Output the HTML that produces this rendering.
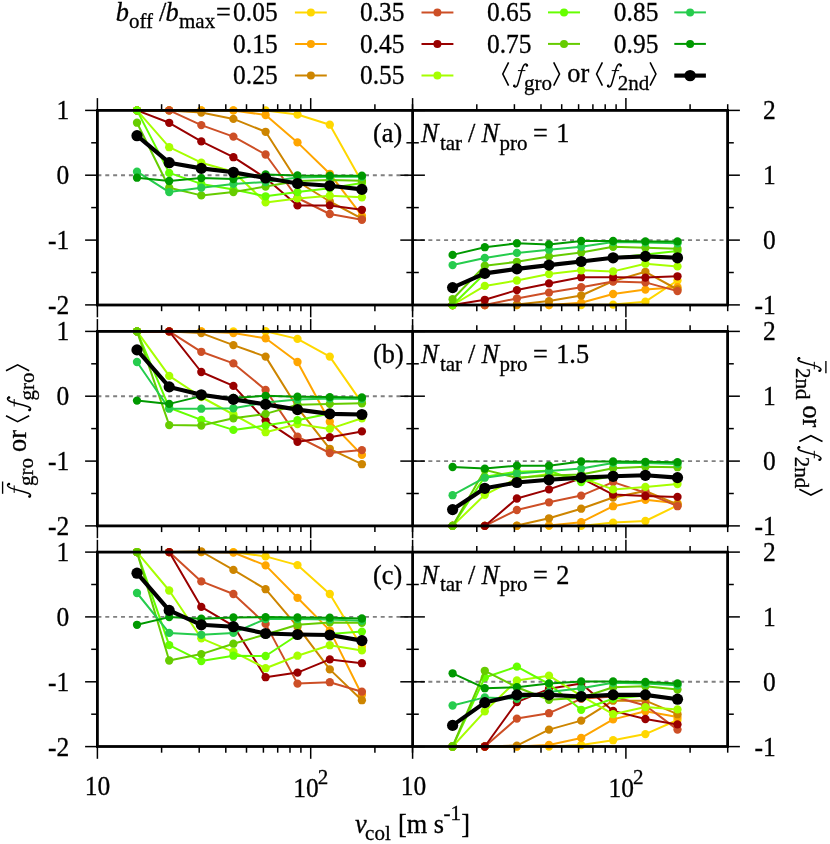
<!DOCTYPE html><html><head><meta charset="utf-8"><title>chart</title><style>
html,body{margin:0;padding:0;background:#fff}svg{display:block;will-change:transform}
text{font-family:"Liberation Serif",serif;fill:#000;stroke:#000;stroke-width:0.3px}
</style></head><body>
<svg width="830" height="844" viewBox="0 0 830 844">
<rect width="830" height="844" fill="#fff"/>
<defs>
<clipPath id="cL0"><rect x="97.4" y="105.4" width="315.20000000000005" height="204.6"/></clipPath>
<clipPath id="cR0"><rect x="412.6" y="105.4" width="315.0" height="204.6"/></clipPath>
<clipPath id="cL1"><rect x="97.4" y="326.4" width="315.20000000000005" height="204.5"/></clipPath>
<clipPath id="cR1"><rect x="412.6" y="326.4" width="315.0" height="204.5"/></clipPath>
<clipPath id="cL2"><rect x="97.4" y="547.1" width="315.20000000000005" height="204.39999999999998"/></clipPath>
<clipPath id="cR2"><rect x="412.6" y="547.1" width="315.0" height="204.39999999999998"/></clipPath>
</defs>
<line x1="97.4" y1="175.2" x2="412.6" y2="175.2" stroke="#808080" stroke-width="1.9" stroke-dasharray="4,3.87"/>
<g clip-path="url(#cL0)">
<polyline points="137.0,110.4 169.2,110.4 201.3,110.4 233.4,110.4 265.6,110.4 297.5,114.5 329.8,124.7 361.9,182.0" fill="none" stroke="#FFD700" stroke-width="2.0" stroke-linejoin="round"/>
<circle cx="137.0" cy="110.4" r="4.15" fill="#FFD700"/>
<circle cx="169.2" cy="110.4" r="4.15" fill="#FFD700"/>
<circle cx="201.3" cy="110.4" r="4.15" fill="#FFD700"/>
<circle cx="233.4" cy="110.4" r="4.15" fill="#FFD700"/>
<circle cx="265.6" cy="110.4" r="4.15" fill="#FFD700"/>
<circle cx="297.5" cy="114.5" r="4.15" fill="#FFD700"/>
<circle cx="329.8" cy="124.7" r="4.15" fill="#FFD700"/>
<circle cx="361.9" cy="182.0" r="4.15" fill="#FFD700"/>
<polyline points="137.0,110.4 169.2,110.4 201.3,110.4 233.4,110.4 265.6,115.0 297.5,142.4 329.8,173.8 361.9,215.6" fill="none" stroke="#FFA500" stroke-width="2.0" stroke-linejoin="round"/>
<circle cx="137.0" cy="110.4" r="4.15" fill="#FFA500"/>
<circle cx="169.2" cy="110.4" r="4.15" fill="#FFA500"/>
<circle cx="201.3" cy="110.4" r="4.15" fill="#FFA500"/>
<circle cx="233.4" cy="110.4" r="4.15" fill="#FFA500"/>
<circle cx="265.6" cy="115.0" r="4.15" fill="#FFA500"/>
<circle cx="297.5" cy="142.4" r="4.15" fill="#FFA500"/>
<circle cx="329.8" cy="173.8" r="4.15" fill="#FFA500"/>
<circle cx="361.9" cy="215.6" r="4.15" fill="#FFA500"/>
<polyline points="137.0,110.4 169.2,110.4 201.3,112.5 233.4,118.9 265.6,131.8 297.5,181.5 329.8,201.5 361.9,218.7" fill="none" stroke="#CD8500" stroke-width="2.0" stroke-linejoin="round"/>
<circle cx="137.0" cy="110.4" r="4.15" fill="#CD8500"/>
<circle cx="169.2" cy="110.4" r="4.15" fill="#CD8500"/>
<circle cx="201.3" cy="112.5" r="4.15" fill="#CD8500"/>
<circle cx="233.4" cy="118.9" r="4.15" fill="#CD8500"/>
<circle cx="265.6" cy="131.8" r="4.15" fill="#CD8500"/>
<circle cx="297.5" cy="181.5" r="4.15" fill="#CD8500"/>
<circle cx="329.8" cy="201.5" r="4.15" fill="#CD8500"/>
<circle cx="361.9" cy="218.7" r="4.15" fill="#CD8500"/>
<polyline points="137.0,110.4 169.2,110.4 201.3,125.1 233.4,136.6 265.6,154.5 297.5,198.0 329.8,214.0 361.9,219.8" fill="none" stroke="#CD4F26" stroke-width="2.0" stroke-linejoin="round"/>
<circle cx="137.0" cy="110.4" r="4.15" fill="#CD4F26"/>
<circle cx="169.2" cy="110.4" r="4.15" fill="#CD4F26"/>
<circle cx="201.3" cy="125.1" r="4.15" fill="#CD4F26"/>
<circle cx="233.4" cy="136.6" r="4.15" fill="#CD4F26"/>
<circle cx="265.6" cy="154.5" r="4.15" fill="#CD4F26"/>
<circle cx="297.5" cy="198.0" r="4.15" fill="#CD4F26"/>
<circle cx="329.8" cy="214.0" r="4.15" fill="#CD4F26"/>
<circle cx="361.9" cy="219.8" r="4.15" fill="#CD4F26"/>
<polyline points="137.0,110.4 169.2,122.8 201.3,141.4 233.4,157.2 265.6,178.0 297.5,205.4 329.8,205.4 361.9,209.8" fill="none" stroke="#990000" stroke-width="2.0" stroke-linejoin="round"/>
<circle cx="137.0" cy="110.4" r="4.15" fill="#990000"/>
<circle cx="169.2" cy="122.8" r="4.15" fill="#990000"/>
<circle cx="201.3" cy="141.4" r="4.15" fill="#990000"/>
<circle cx="233.4" cy="157.2" r="4.15" fill="#990000"/>
<circle cx="265.6" cy="178.0" r="4.15" fill="#990000"/>
<circle cx="297.5" cy="205.4" r="4.15" fill="#990000"/>
<circle cx="329.8" cy="205.4" r="4.15" fill="#990000"/>
<circle cx="361.9" cy="209.8" r="4.15" fill="#990000"/>
<polyline points="137.0,110.4 169.2,147.2 201.3,162.7 233.4,171.7 265.6,202.4 297.5,198.4 329.8,195.7 361.9,197.3" fill="none" stroke="#A6FF00" stroke-width="2.0" stroke-linejoin="round"/>
<circle cx="137.0" cy="110.4" r="4.15" fill="#A6FF00"/>
<circle cx="169.2" cy="147.2" r="4.15" fill="#A6FF00"/>
<circle cx="201.3" cy="162.7" r="4.15" fill="#A6FF00"/>
<circle cx="233.4" cy="171.7" r="4.15" fill="#A6FF00"/>
<circle cx="265.6" cy="202.4" r="4.15" fill="#A6FF00"/>
<circle cx="297.5" cy="198.4" r="4.15" fill="#A6FF00"/>
<circle cx="329.8" cy="195.7" r="4.15" fill="#A6FF00"/>
<circle cx="361.9" cy="197.3" r="4.15" fill="#A6FF00"/>
<polyline points="137.0,110.4 169.2,172.9 201.3,183.9 233.4,189.6 265.6,196.3 297.5,192.1 329.8,188.2 361.9,183.0" fill="none" stroke="#66FF00" stroke-width="2.0" stroke-linejoin="round"/>
<circle cx="137.0" cy="110.4" r="4.15" fill="#66FF00"/>
<circle cx="169.2" cy="172.9" r="4.15" fill="#66FF00"/>
<circle cx="201.3" cy="183.9" r="4.15" fill="#66FF00"/>
<circle cx="233.4" cy="189.6" r="4.15" fill="#66FF00"/>
<circle cx="265.6" cy="196.3" r="4.15" fill="#66FF00"/>
<circle cx="297.5" cy="192.1" r="4.15" fill="#66FF00"/>
<circle cx="329.8" cy="188.2" r="4.15" fill="#66FF00"/>
<circle cx="361.9" cy="183.0" r="4.15" fill="#66FF00"/>
<polyline points="137.0,122.7 169.2,187.7 201.3,195.4 233.4,192.1 265.6,186.6 297.5,181.0 329.8,180.0 361.9,180.8" fill="none" stroke="#66CC00" stroke-width="2.0" stroke-linejoin="round"/>
<circle cx="137.0" cy="122.7" r="4.15" fill="#66CC00"/>
<circle cx="169.2" cy="187.7" r="4.15" fill="#66CC00"/>
<circle cx="201.3" cy="195.4" r="4.15" fill="#66CC00"/>
<circle cx="233.4" cy="192.1" r="4.15" fill="#66CC00"/>
<circle cx="265.6" cy="186.6" r="4.15" fill="#66CC00"/>
<circle cx="297.5" cy="181.0" r="4.15" fill="#66CC00"/>
<circle cx="329.8" cy="180.0" r="4.15" fill="#66CC00"/>
<circle cx="361.9" cy="180.8" r="4.15" fill="#66CC00"/>
<polyline points="137.0,171.7 169.2,192.1 201.3,187.7 233.4,183.9 265.6,182.0 297.5,177.5 329.8,176.8 361.9,176.8" fill="none" stroke="#26CC4D" stroke-width="2.0" stroke-linejoin="round"/>
<circle cx="137.0" cy="171.7" r="4.15" fill="#26CC4D"/>
<circle cx="169.2" cy="192.1" r="4.15" fill="#26CC4D"/>
<circle cx="201.3" cy="187.7" r="4.15" fill="#26CC4D"/>
<circle cx="233.4" cy="183.9" r="4.15" fill="#26CC4D"/>
<circle cx="265.6" cy="182.0" r="4.15" fill="#26CC4D"/>
<circle cx="297.5" cy="177.5" r="4.15" fill="#26CC4D"/>
<circle cx="329.8" cy="176.8" r="4.15" fill="#26CC4D"/>
<circle cx="361.9" cy="176.8" r="4.15" fill="#26CC4D"/>
<polyline points="137.0,177.7 169.2,181.0 201.3,178.1 233.4,179.0 265.6,174.5 297.5,175.5 329.8,175.7 361.9,175.7" fill="none" stroke="#009900" stroke-width="2.0" stroke-linejoin="round"/>
<circle cx="137.0" cy="177.7" r="4.15" fill="#009900"/>
<circle cx="169.2" cy="181.0" r="4.15" fill="#009900"/>
<circle cx="201.3" cy="178.1" r="4.15" fill="#009900"/>
<circle cx="233.4" cy="179.0" r="4.15" fill="#009900"/>
<circle cx="265.6" cy="174.5" r="4.15" fill="#009900"/>
<circle cx="297.5" cy="175.5" r="4.15" fill="#009900"/>
<circle cx="329.8" cy="175.7" r="4.15" fill="#009900"/>
<circle cx="361.9" cy="175.7" r="4.15" fill="#009900"/>
<polyline points="137.0,135.7 169.2,162.7 201.3,168.4 233.4,172.3 265.6,178.0 297.5,183.5 329.8,185.8 361.9,189.4" fill="none" stroke="#000000" stroke-width="4.15" stroke-linejoin="round"/>
<circle cx="137.0" cy="135.7" r="5.6" fill="#000000"/>
<circle cx="169.2" cy="162.7" r="5.6" fill="#000000"/>
<circle cx="201.3" cy="168.4" r="5.6" fill="#000000"/>
<circle cx="233.4" cy="172.3" r="5.6" fill="#000000"/>
<circle cx="265.6" cy="178.0" r="5.6" fill="#000000"/>
<circle cx="297.5" cy="183.5" r="5.6" fill="#000000"/>
<circle cx="329.8" cy="185.8" r="5.6" fill="#000000"/>
<circle cx="361.9" cy="189.4" r="5.6" fill="#000000"/>
</g>
<line x1="412.6" y1="240.1" x2="727.6" y2="240.1" stroke="#808080" stroke-width="1.9" stroke-dasharray="4,3.87"/>
<g clip-path="url(#cR0)">
<polyline points="452.6,305.0 484.8,305.0 516.9,305.0 549.0,305.0 581.2,305.0 613.1,304.6 645.4,301.7 677.5,280.5" fill="none" stroke="#FFD700" stroke-width="2.0" stroke-linejoin="round"/>
<circle cx="452.6" cy="305.0" r="4.15" fill="#FFD700"/>
<circle cx="484.8" cy="305.0" r="4.15" fill="#FFD700"/>
<circle cx="516.9" cy="305.0" r="4.15" fill="#FFD700"/>
<circle cx="549.0" cy="305.0" r="4.15" fill="#FFD700"/>
<circle cx="581.2" cy="305.0" r="4.15" fill="#FFD700"/>
<circle cx="613.1" cy="304.6" r="4.15" fill="#FFD700"/>
<circle cx="645.4" cy="301.7" r="4.15" fill="#FFD700"/>
<circle cx="677.5" cy="280.5" r="4.15" fill="#FFD700"/>
<polyline points="452.6,305.0 484.8,305.0 516.9,305.0 549.0,305.0 581.2,302.7 613.1,294.0 645.4,289.6 677.5,287.2" fill="none" stroke="#FFA500" stroke-width="2.0" stroke-linejoin="round"/>
<circle cx="452.6" cy="305.0" r="4.15" fill="#FFA500"/>
<circle cx="484.8" cy="305.0" r="4.15" fill="#FFA500"/>
<circle cx="516.9" cy="305.0" r="4.15" fill="#FFA500"/>
<circle cx="549.0" cy="305.0" r="4.15" fill="#FFA500"/>
<circle cx="581.2" cy="302.7" r="4.15" fill="#FFA500"/>
<circle cx="613.1" cy="294.0" r="4.15" fill="#FFA500"/>
<circle cx="645.4" cy="289.6" r="4.15" fill="#FFA500"/>
<circle cx="677.5" cy="287.2" r="4.15" fill="#FFA500"/>
<polyline points="452.6,305.0 484.8,305.0 516.9,304.5 549.0,301.1 581.2,295.5 613.1,281.1 645.4,271.8 677.5,289.5" fill="none" stroke="#CD8500" stroke-width="2.0" stroke-linejoin="round"/>
<circle cx="452.6" cy="305.0" r="4.15" fill="#CD8500"/>
<circle cx="484.8" cy="305.0" r="4.15" fill="#CD8500"/>
<circle cx="516.9" cy="304.5" r="4.15" fill="#CD8500"/>
<circle cx="549.0" cy="301.1" r="4.15" fill="#CD8500"/>
<circle cx="581.2" cy="295.5" r="4.15" fill="#CD8500"/>
<circle cx="613.1" cy="281.1" r="4.15" fill="#CD8500"/>
<circle cx="645.4" cy="271.8" r="4.15" fill="#CD8500"/>
<circle cx="677.5" cy="289.5" r="4.15" fill="#CD8500"/>
<polyline points="452.6,305.0 484.8,305.0 516.9,298.4 549.0,292.6 581.2,287.2 613.1,281.5 645.4,282.4 677.5,291.1" fill="none" stroke="#CD4F26" stroke-width="2.0" stroke-linejoin="round"/>
<circle cx="452.6" cy="305.0" r="4.15" fill="#CD4F26"/>
<circle cx="484.8" cy="305.0" r="4.15" fill="#CD4F26"/>
<circle cx="516.9" cy="298.4" r="4.15" fill="#CD4F26"/>
<circle cx="549.0" cy="292.6" r="4.15" fill="#CD4F26"/>
<circle cx="581.2" cy="287.2" r="4.15" fill="#CD4F26"/>
<circle cx="613.1" cy="281.5" r="4.15" fill="#CD4F26"/>
<circle cx="645.4" cy="282.4" r="4.15" fill="#CD4F26"/>
<circle cx="677.5" cy="291.1" r="4.15" fill="#CD4F26"/>
<polyline points="452.6,305.0 484.8,299.8 516.9,290.1 549.0,283.4 581.2,277.2 613.1,277.2 645.4,277.6 677.5,276.3" fill="none" stroke="#990000" stroke-width="2.0" stroke-linejoin="round"/>
<circle cx="452.6" cy="305.0" r="4.15" fill="#990000"/>
<circle cx="484.8" cy="299.8" r="4.15" fill="#990000"/>
<circle cx="516.9" cy="290.1" r="4.15" fill="#990000"/>
<circle cx="549.0" cy="283.4" r="4.15" fill="#990000"/>
<circle cx="581.2" cy="277.2" r="4.15" fill="#990000"/>
<circle cx="613.1" cy="277.2" r="4.15" fill="#990000"/>
<circle cx="645.4" cy="277.6" r="4.15" fill="#990000"/>
<circle cx="677.5" cy="276.3" r="4.15" fill="#990000"/>
<polyline points="452.6,305.0 484.8,285.9 516.9,280.5 549.0,274.1 581.2,270.3 613.1,271.4 645.4,263.7 677.5,266.4" fill="none" stroke="#A6FF00" stroke-width="2.0" stroke-linejoin="round"/>
<circle cx="452.6" cy="305.0" r="4.15" fill="#A6FF00"/>
<circle cx="484.8" cy="285.9" r="4.15" fill="#A6FF00"/>
<circle cx="516.9" cy="280.5" r="4.15" fill="#A6FF00"/>
<circle cx="549.0" cy="274.1" r="4.15" fill="#A6FF00"/>
<circle cx="581.2" cy="270.3" r="4.15" fill="#A6FF00"/>
<circle cx="613.1" cy="271.4" r="4.15" fill="#A6FF00"/>
<circle cx="645.4" cy="263.7" r="4.15" fill="#A6FF00"/>
<circle cx="677.5" cy="266.4" r="4.15" fill="#A6FF00"/>
<polyline points="452.6,305.0 484.8,273.5 516.9,269.0 549.0,265.2 581.2,261.5 613.1,257.8 645.4,254.5 677.5,251.0" fill="none" stroke="#66FF00" stroke-width="2.0" stroke-linejoin="round"/>
<circle cx="452.6" cy="305.0" r="4.15" fill="#66FF00"/>
<circle cx="484.8" cy="273.5" r="4.15" fill="#66FF00"/>
<circle cx="516.9" cy="269.0" r="4.15" fill="#66FF00"/>
<circle cx="549.0" cy="265.2" r="4.15" fill="#66FF00"/>
<circle cx="581.2" cy="261.5" r="4.15" fill="#66FF00"/>
<circle cx="613.1" cy="257.8" r="4.15" fill="#66FF00"/>
<circle cx="645.4" cy="254.5" r="4.15" fill="#66FF00"/>
<circle cx="677.5" cy="251.0" r="4.15" fill="#66FF00"/>
<polyline points="452.6,299.2 484.8,265.7 516.9,261.8 549.0,256.4 581.2,252.5 613.1,246.8 645.4,247.7 677.5,248.7" fill="none" stroke="#66CC00" stroke-width="2.0" stroke-linejoin="round"/>
<circle cx="452.6" cy="299.2" r="4.15" fill="#66CC00"/>
<circle cx="484.8" cy="265.7" r="4.15" fill="#66CC00"/>
<circle cx="516.9" cy="261.8" r="4.15" fill="#66CC00"/>
<circle cx="549.0" cy="256.4" r="4.15" fill="#66CC00"/>
<circle cx="581.2" cy="252.5" r="4.15" fill="#66CC00"/>
<circle cx="613.1" cy="246.8" r="4.15" fill="#66CC00"/>
<circle cx="645.4" cy="247.7" r="4.15" fill="#66CC00"/>
<circle cx="677.5" cy="248.7" r="4.15" fill="#66CC00"/>
<polyline points="452.6,265.1 484.8,257.9 516.9,252.9 549.0,249.7 581.2,246.8 613.1,242.0 645.4,242.5 677.5,243.3" fill="none" stroke="#26CC4D" stroke-width="2.0" stroke-linejoin="round"/>
<circle cx="452.6" cy="265.1" r="4.15" fill="#26CC4D"/>
<circle cx="484.8" cy="257.9" r="4.15" fill="#26CC4D"/>
<circle cx="516.9" cy="252.9" r="4.15" fill="#26CC4D"/>
<circle cx="549.0" cy="249.7" r="4.15" fill="#26CC4D"/>
<circle cx="581.2" cy="246.8" r="4.15" fill="#26CC4D"/>
<circle cx="613.1" cy="242.0" r="4.15" fill="#26CC4D"/>
<circle cx="645.4" cy="242.5" r="4.15" fill="#26CC4D"/>
<circle cx="677.5" cy="243.3" r="4.15" fill="#26CC4D"/>
<polyline points="452.6,254.9 484.8,247.2 516.9,243.3 549.0,244.4 581.2,241.0 613.1,241.0 645.4,241.4 677.5,241.4" fill="none" stroke="#009900" stroke-width="2.0" stroke-linejoin="round"/>
<circle cx="452.6" cy="254.9" r="4.15" fill="#009900"/>
<circle cx="484.8" cy="247.2" r="4.15" fill="#009900"/>
<circle cx="516.9" cy="243.3" r="4.15" fill="#009900"/>
<circle cx="549.0" cy="244.4" r="4.15" fill="#009900"/>
<circle cx="581.2" cy="241.0" r="4.15" fill="#009900"/>
<circle cx="613.1" cy="241.0" r="4.15" fill="#009900"/>
<circle cx="645.4" cy="241.4" r="4.15" fill="#009900"/>
<circle cx="677.5" cy="241.4" r="4.15" fill="#009900"/>
<polyline points="452.6,287.6 484.8,273.4 516.9,268.9 549.0,265.1 581.2,261.5 613.1,257.8 645.4,256.4 677.5,257.8" fill="none" stroke="#000000" stroke-width="4.15" stroke-linejoin="round"/>
<circle cx="452.6" cy="287.6" r="5.6" fill="#000000"/>
<circle cx="484.8" cy="273.4" r="5.6" fill="#000000"/>
<circle cx="516.9" cy="268.9" r="5.6" fill="#000000"/>
<circle cx="549.0" cy="265.1" r="5.6" fill="#000000"/>
<circle cx="581.2" cy="261.5" r="5.6" fill="#000000"/>
<circle cx="613.1" cy="257.8" r="5.6" fill="#000000"/>
<circle cx="645.4" cy="256.4" r="5.6" fill="#000000"/>
<circle cx="677.5" cy="257.8" r="5.6" fill="#000000"/>
</g>
<line x1="97.4" y1="396.2" x2="412.6" y2="396.2" stroke="#808080" stroke-width="1.9" stroke-dasharray="4,3.87"/>
<g clip-path="url(#cL1)">
<polyline points="137.0,331.4 169.2,331.4 201.3,331.4 233.4,331.4 265.6,331.2 297.5,338.9 329.8,356.6 361.9,402.9" fill="none" stroke="#FFD700" stroke-width="2.0" stroke-linejoin="round"/>
<circle cx="137.0" cy="331.4" r="4.15" fill="#FFD700"/>
<circle cx="169.2" cy="331.4" r="4.15" fill="#FFD700"/>
<circle cx="201.3" cy="331.4" r="4.15" fill="#FFD700"/>
<circle cx="233.4" cy="331.4" r="4.15" fill="#FFD700"/>
<circle cx="265.6" cy="331.2" r="4.15" fill="#FFD700"/>
<circle cx="297.5" cy="338.9" r="4.15" fill="#FFD700"/>
<circle cx="329.8" cy="356.6" r="4.15" fill="#FFD700"/>
<circle cx="361.9" cy="402.9" r="4.15" fill="#FFD700"/>
<polyline points="137.0,331.4 169.2,331.4 201.3,331.4 233.4,333.1 265.6,338.3 297.5,362.0 329.8,421.8 361.9,454.9" fill="none" stroke="#FFA500" stroke-width="2.0" stroke-linejoin="round"/>
<circle cx="137.0" cy="331.4" r="4.15" fill="#FFA500"/>
<circle cx="169.2" cy="331.4" r="4.15" fill="#FFA500"/>
<circle cx="201.3" cy="331.4" r="4.15" fill="#FFA500"/>
<circle cx="233.4" cy="333.1" r="4.15" fill="#FFA500"/>
<circle cx="265.6" cy="338.3" r="4.15" fill="#FFA500"/>
<circle cx="297.5" cy="362.0" r="4.15" fill="#FFA500"/>
<circle cx="329.8" cy="421.8" r="4.15" fill="#FFA500"/>
<circle cx="361.9" cy="454.9" r="4.15" fill="#FFA500"/>
<polyline points="137.0,331.4 169.2,331.4 201.3,333.1 233.4,345.1 265.6,356.6 297.5,407.7 329.8,448.8 361.9,464.2" fill="none" stroke="#CD8500" stroke-width="2.0" stroke-linejoin="round"/>
<circle cx="137.0" cy="331.4" r="4.15" fill="#CD8500"/>
<circle cx="169.2" cy="331.4" r="4.15" fill="#CD8500"/>
<circle cx="201.3" cy="333.1" r="4.15" fill="#CD8500"/>
<circle cx="233.4" cy="345.1" r="4.15" fill="#CD8500"/>
<circle cx="265.6" cy="356.6" r="4.15" fill="#CD8500"/>
<circle cx="297.5" cy="407.7" r="4.15" fill="#CD8500"/>
<circle cx="329.8" cy="448.8" r="4.15" fill="#CD8500"/>
<circle cx="361.9" cy="464.2" r="4.15" fill="#CD8500"/>
<polyline points="137.0,331.4 169.2,331.4 201.3,351.8 233.4,363.4 265.6,390.0 297.5,436.6 329.8,453.0 361.9,450.1" fill="none" stroke="#CD4F26" stroke-width="2.0" stroke-linejoin="round"/>
<circle cx="137.0" cy="331.4" r="4.15" fill="#CD4F26"/>
<circle cx="169.2" cy="331.4" r="4.15" fill="#CD4F26"/>
<circle cx="201.3" cy="351.8" r="4.15" fill="#CD4F26"/>
<circle cx="233.4" cy="363.4" r="4.15" fill="#CD4F26"/>
<circle cx="265.6" cy="390.0" r="4.15" fill="#CD4F26"/>
<circle cx="297.5" cy="436.6" r="4.15" fill="#CD4F26"/>
<circle cx="329.8" cy="453.0" r="4.15" fill="#CD4F26"/>
<circle cx="361.9" cy="450.1" r="4.15" fill="#CD4F26"/>
<polyline points="137.0,331.4 169.2,331.4 201.3,372.0 233.4,385.9 265.6,420.6 297.5,441.8 329.8,437.2 361.9,431.4" fill="none" stroke="#990000" stroke-width="2.0" stroke-linejoin="round"/>
<circle cx="137.0" cy="331.4" r="4.15" fill="#990000"/>
<circle cx="169.2" cy="331.4" r="4.15" fill="#990000"/>
<circle cx="201.3" cy="372.0" r="4.15" fill="#990000"/>
<circle cx="233.4" cy="385.9" r="4.15" fill="#990000"/>
<circle cx="265.6" cy="420.6" r="4.15" fill="#990000"/>
<circle cx="297.5" cy="441.8" r="4.15" fill="#990000"/>
<circle cx="329.8" cy="437.2" r="4.15" fill="#990000"/>
<circle cx="361.9" cy="431.4" r="4.15" fill="#990000"/>
<polyline points="137.0,331.4 169.2,375.9 201.3,397.0 233.4,414.5 265.6,432.2 297.5,424.1 329.8,428.9 361.9,418.3" fill="none" stroke="#A6FF00" stroke-width="2.0" stroke-linejoin="round"/>
<circle cx="137.0" cy="331.4" r="4.15" fill="#A6FF00"/>
<circle cx="169.2" cy="375.9" r="4.15" fill="#A6FF00"/>
<circle cx="201.3" cy="397.0" r="4.15" fill="#A6FF00"/>
<circle cx="233.4" cy="414.5" r="4.15" fill="#A6FF00"/>
<circle cx="265.6" cy="432.2" r="4.15" fill="#A6FF00"/>
<circle cx="297.5" cy="424.1" r="4.15" fill="#A6FF00"/>
<circle cx="329.8" cy="428.9" r="4.15" fill="#A6FF00"/>
<circle cx="361.9" cy="418.3" r="4.15" fill="#A6FF00"/>
<polyline points="137.0,331.4 169.2,407.7 201.3,419.9 233.4,429.9 265.6,425.6 297.5,420.2 329.8,413.5 361.9,414.5" fill="none" stroke="#66FF00" stroke-width="2.0" stroke-linejoin="round"/>
<circle cx="137.0" cy="331.4" r="4.15" fill="#66FF00"/>
<circle cx="169.2" cy="407.7" r="4.15" fill="#66FF00"/>
<circle cx="201.3" cy="419.9" r="4.15" fill="#66FF00"/>
<circle cx="233.4" cy="429.9" r="4.15" fill="#66FF00"/>
<circle cx="265.6" cy="425.6" r="4.15" fill="#66FF00"/>
<circle cx="297.5" cy="420.2" r="4.15" fill="#66FF00"/>
<circle cx="329.8" cy="413.5" r="4.15" fill="#66FF00"/>
<circle cx="361.9" cy="414.5" r="4.15" fill="#66FF00"/>
<polyline points="137.0,331.4 169.2,425.1 201.3,425.6 233.4,418.3 265.6,413.9 297.5,404.8 329.8,403.9 361.9,403.3" fill="none" stroke="#66CC00" stroke-width="2.0" stroke-linejoin="round"/>
<circle cx="137.0" cy="331.4" r="4.15" fill="#66CC00"/>
<circle cx="169.2" cy="425.1" r="4.15" fill="#66CC00"/>
<circle cx="201.3" cy="425.6" r="4.15" fill="#66CC00"/>
<circle cx="233.4" cy="418.3" r="4.15" fill="#66CC00"/>
<circle cx="265.6" cy="413.9" r="4.15" fill="#66CC00"/>
<circle cx="297.5" cy="404.8" r="4.15" fill="#66CC00"/>
<circle cx="329.8" cy="403.9" r="4.15" fill="#66CC00"/>
<circle cx="361.9" cy="403.3" r="4.15" fill="#66CC00"/>
<polyline points="137.0,362.0 169.2,408.7 201.3,408.7 233.4,408.3 265.6,402.5 297.5,399.5 329.8,398.5 361.9,399.0" fill="none" stroke="#26CC4D" stroke-width="2.0" stroke-linejoin="round"/>
<circle cx="137.0" cy="362.0" r="4.15" fill="#26CC4D"/>
<circle cx="169.2" cy="408.7" r="4.15" fill="#26CC4D"/>
<circle cx="201.3" cy="408.7" r="4.15" fill="#26CC4D"/>
<circle cx="233.4" cy="408.3" r="4.15" fill="#26CC4D"/>
<circle cx="265.6" cy="402.5" r="4.15" fill="#26CC4D"/>
<circle cx="297.5" cy="399.5" r="4.15" fill="#26CC4D"/>
<circle cx="329.8" cy="398.5" r="4.15" fill="#26CC4D"/>
<circle cx="361.9" cy="399.0" r="4.15" fill="#26CC4D"/>
<polyline points="137.0,400.6 169.2,403.9 201.3,396.1 233.4,398.0 265.6,395.8 297.5,396.7 329.8,397.1 361.9,397.5" fill="none" stroke="#009900" stroke-width="2.0" stroke-linejoin="round"/>
<circle cx="137.0" cy="400.6" r="4.15" fill="#009900"/>
<circle cx="169.2" cy="403.9" r="4.15" fill="#009900"/>
<circle cx="201.3" cy="396.1" r="4.15" fill="#009900"/>
<circle cx="233.4" cy="398.0" r="4.15" fill="#009900"/>
<circle cx="265.6" cy="395.8" r="4.15" fill="#009900"/>
<circle cx="297.5" cy="396.7" r="4.15" fill="#009900"/>
<circle cx="329.8" cy="397.1" r="4.15" fill="#009900"/>
<circle cx="361.9" cy="397.5" r="4.15" fill="#009900"/>
<polyline points="137.0,349.9 169.2,386.9 201.3,394.8 233.4,399.4 265.6,404.4 297.5,409.6 329.8,413.9 361.9,414.5" fill="none" stroke="#000000" stroke-width="4.15" stroke-linejoin="round"/>
<circle cx="137.0" cy="349.9" r="5.6" fill="#000000"/>
<circle cx="169.2" cy="386.9" r="5.6" fill="#000000"/>
<circle cx="201.3" cy="394.8" r="5.6" fill="#000000"/>
<circle cx="233.4" cy="399.4" r="5.6" fill="#000000"/>
<circle cx="265.6" cy="404.4" r="5.6" fill="#000000"/>
<circle cx="297.5" cy="409.6" r="5.6" fill="#000000"/>
<circle cx="329.8" cy="413.9" r="5.6" fill="#000000"/>
<circle cx="361.9" cy="414.5" r="5.6" fill="#000000"/>
</g>
<line x1="412.6" y1="461.1" x2="727.6" y2="461.1" stroke="#808080" stroke-width="1.9" stroke-dasharray="4,3.87"/>
<g clip-path="url(#cR1)">
<polyline points="452.6,525.9 484.8,525.9 516.9,525.9 549.0,525.9 581.2,525.9 613.1,522.6 645.4,521.0 677.5,505.4" fill="none" stroke="#FFD700" stroke-width="2.0" stroke-linejoin="round"/>
<circle cx="452.6" cy="525.9" r="4.15" fill="#FFD700"/>
<circle cx="484.8" cy="525.9" r="4.15" fill="#FFD700"/>
<circle cx="516.9" cy="525.9" r="4.15" fill="#FFD700"/>
<circle cx="549.0" cy="525.9" r="4.15" fill="#FFD700"/>
<circle cx="581.2" cy="525.9" r="4.15" fill="#FFD700"/>
<circle cx="613.1" cy="522.6" r="4.15" fill="#FFD700"/>
<circle cx="645.4" cy="521.0" r="4.15" fill="#FFD700"/>
<circle cx="677.5" cy="505.4" r="4.15" fill="#FFD700"/>
<polyline points="452.6,525.9 484.8,525.9 516.9,525.9 549.0,525.4 581.2,522.2 613.1,506.2 645.4,499.8 677.5,503.3" fill="none" stroke="#FFA500" stroke-width="2.0" stroke-linejoin="round"/>
<circle cx="452.6" cy="525.9" r="4.15" fill="#FFA500"/>
<circle cx="484.8" cy="525.9" r="4.15" fill="#FFA500"/>
<circle cx="516.9" cy="525.9" r="4.15" fill="#FFA500"/>
<circle cx="549.0" cy="525.4" r="4.15" fill="#FFA500"/>
<circle cx="581.2" cy="522.2" r="4.15" fill="#FFA500"/>
<circle cx="613.1" cy="506.2" r="4.15" fill="#FFA500"/>
<circle cx="645.4" cy="499.8" r="4.15" fill="#FFA500"/>
<circle cx="677.5" cy="503.3" r="4.15" fill="#FFA500"/>
<polyline points="452.6,525.9 484.8,525.9 516.9,525.6 549.0,518.3 581.2,508.7 613.1,497.5 645.4,490.9 677.5,504.4" fill="none" stroke="#CD8500" stroke-width="2.0" stroke-linejoin="round"/>
<circle cx="452.6" cy="525.9" r="4.15" fill="#CD8500"/>
<circle cx="484.8" cy="525.9" r="4.15" fill="#CD8500"/>
<circle cx="516.9" cy="525.6" r="4.15" fill="#CD8500"/>
<circle cx="549.0" cy="518.3" r="4.15" fill="#CD8500"/>
<circle cx="581.2" cy="508.7" r="4.15" fill="#CD8500"/>
<circle cx="613.1" cy="497.5" r="4.15" fill="#CD8500"/>
<circle cx="645.4" cy="490.9" r="4.15" fill="#CD8500"/>
<circle cx="677.5" cy="504.4" r="4.15" fill="#CD8500"/>
<polyline points="452.6,525.9 484.8,525.9 516.9,510.0 549.0,502.3 581.2,495.6 613.1,482.1 645.4,492.7 677.5,506.2" fill="none" stroke="#CD4F26" stroke-width="2.0" stroke-linejoin="round"/>
<circle cx="452.6" cy="525.9" r="4.15" fill="#CD4F26"/>
<circle cx="484.8" cy="525.9" r="4.15" fill="#CD4F26"/>
<circle cx="516.9" cy="510.0" r="4.15" fill="#CD4F26"/>
<circle cx="549.0" cy="502.3" r="4.15" fill="#CD4F26"/>
<circle cx="581.2" cy="495.6" r="4.15" fill="#CD4F26"/>
<circle cx="613.1" cy="482.1" r="4.15" fill="#CD4F26"/>
<circle cx="645.4" cy="492.7" r="4.15" fill="#CD4F26"/>
<circle cx="677.5" cy="506.2" r="4.15" fill="#CD4F26"/>
<polyline points="452.6,525.9 484.8,525.9 516.9,498.5 549.0,489.4 581.2,478.2 613.1,494.6 645.4,496.0 677.5,496.9" fill="none" stroke="#990000" stroke-width="2.0" stroke-linejoin="round"/>
<circle cx="452.6" cy="525.9" r="4.15" fill="#990000"/>
<circle cx="484.8" cy="525.9" r="4.15" fill="#990000"/>
<circle cx="516.9" cy="498.5" r="4.15" fill="#990000"/>
<circle cx="549.0" cy="489.4" r="4.15" fill="#990000"/>
<circle cx="581.2" cy="478.2" r="4.15" fill="#990000"/>
<circle cx="613.1" cy="494.6" r="4.15" fill="#990000"/>
<circle cx="645.4" cy="496.0" r="4.15" fill="#990000"/>
<circle cx="677.5" cy="496.9" r="4.15" fill="#990000"/>
<polyline points="452.6,525.9 484.8,494.8 516.9,478.4 549.0,473.9 581.2,477.9 613.1,489.4 645.4,486.9 677.5,484.0" fill="none" stroke="#A6FF00" stroke-width="2.0" stroke-linejoin="round"/>
<circle cx="452.6" cy="525.9" r="4.15" fill="#A6FF00"/>
<circle cx="484.8" cy="494.8" r="4.15" fill="#A6FF00"/>
<circle cx="516.9" cy="478.4" r="4.15" fill="#A6FF00"/>
<circle cx="549.0" cy="473.9" r="4.15" fill="#A6FF00"/>
<circle cx="581.2" cy="477.9" r="4.15" fill="#A6FF00"/>
<circle cx="613.1" cy="489.4" r="4.15" fill="#A6FF00"/>
<circle cx="645.4" cy="486.9" r="4.15" fill="#A6FF00"/>
<circle cx="677.5" cy="484.0" r="4.15" fill="#A6FF00"/>
<polyline points="452.6,525.9 484.8,476.7 516.9,471.7 549.0,470.8 581.2,482.1 613.1,475.9 645.4,475.3 677.5,476.9" fill="none" stroke="#66FF00" stroke-width="2.0" stroke-linejoin="round"/>
<circle cx="452.6" cy="525.9" r="4.15" fill="#66FF00"/>
<circle cx="484.8" cy="476.7" r="4.15" fill="#66FF00"/>
<circle cx="516.9" cy="471.7" r="4.15" fill="#66FF00"/>
<circle cx="549.0" cy="470.8" r="4.15" fill="#66FF00"/>
<circle cx="581.2" cy="482.1" r="4.15" fill="#66FF00"/>
<circle cx="613.1" cy="475.9" r="4.15" fill="#66FF00"/>
<circle cx="645.4" cy="475.3" r="4.15" fill="#66FF00"/>
<circle cx="677.5" cy="476.9" r="4.15" fill="#66FF00"/>
<polyline points="452.6,525.9 484.8,469.9 516.9,477.8 549.0,475.4 581.2,474.4 613.1,468.2 645.4,466.7 677.5,467.2" fill="none" stroke="#66CC00" stroke-width="2.0" stroke-linejoin="round"/>
<circle cx="452.6" cy="525.9" r="4.15" fill="#66CC00"/>
<circle cx="484.8" cy="469.9" r="4.15" fill="#66CC00"/>
<circle cx="516.9" cy="477.8" r="4.15" fill="#66CC00"/>
<circle cx="549.0" cy="475.4" r="4.15" fill="#66CC00"/>
<circle cx="581.2" cy="474.4" r="4.15" fill="#66CC00"/>
<circle cx="613.1" cy="468.2" r="4.15" fill="#66CC00"/>
<circle cx="645.4" cy="466.7" r="4.15" fill="#66CC00"/>
<circle cx="677.5" cy="467.2" r="4.15" fill="#66CC00"/>
<polyline points="452.6,495.2 484.8,477.7 516.9,473.4 549.0,470.9 581.2,468.6 613.1,462.9 645.4,462.9 677.5,463.9" fill="none" stroke="#26CC4D" stroke-width="2.0" stroke-linejoin="round"/>
<circle cx="452.6" cy="495.2" r="4.15" fill="#26CC4D"/>
<circle cx="484.8" cy="477.7" r="4.15" fill="#26CC4D"/>
<circle cx="516.9" cy="473.4" r="4.15" fill="#26CC4D"/>
<circle cx="549.0" cy="470.9" r="4.15" fill="#26CC4D"/>
<circle cx="581.2" cy="468.6" r="4.15" fill="#26CC4D"/>
<circle cx="613.1" cy="462.9" r="4.15" fill="#26CC4D"/>
<circle cx="645.4" cy="462.9" r="4.15" fill="#26CC4D"/>
<circle cx="677.5" cy="463.9" r="4.15" fill="#26CC4D"/>
<polyline points="452.6,467.0 484.8,468.6 516.9,465.7 549.0,465.7 581.2,461.5 613.1,461.5 645.4,461.8 677.5,462.2" fill="none" stroke="#009900" stroke-width="2.0" stroke-linejoin="round"/>
<circle cx="452.6" cy="467.0" r="4.15" fill="#009900"/>
<circle cx="484.8" cy="468.6" r="4.15" fill="#009900"/>
<circle cx="516.9" cy="465.7" r="4.15" fill="#009900"/>
<circle cx="549.0" cy="465.7" r="4.15" fill="#009900"/>
<circle cx="581.2" cy="461.5" r="4.15" fill="#009900"/>
<circle cx="613.1" cy="461.5" r="4.15" fill="#009900"/>
<circle cx="645.4" cy="461.8" r="4.15" fill="#009900"/>
<circle cx="677.5" cy="462.2" r="4.15" fill="#009900"/>
<polyline points="452.6,509.6 484.8,488.3 516.9,482.5 549.0,479.8 581.2,477.6 613.1,476.3 645.4,475.3 677.5,477.6" fill="none" stroke="#000000" stroke-width="4.15" stroke-linejoin="round"/>
<circle cx="452.6" cy="509.6" r="5.6" fill="#000000"/>
<circle cx="484.8" cy="488.3" r="5.6" fill="#000000"/>
<circle cx="516.9" cy="482.5" r="5.6" fill="#000000"/>
<circle cx="549.0" cy="479.8" r="5.6" fill="#000000"/>
<circle cx="581.2" cy="477.6" r="5.6" fill="#000000"/>
<circle cx="613.1" cy="476.3" r="5.6" fill="#000000"/>
<circle cx="645.4" cy="475.3" r="5.6" fill="#000000"/>
<circle cx="677.5" cy="477.6" r="5.6" fill="#000000"/>
</g>
<line x1="97.4" y1="616.9" x2="412.6" y2="616.9" stroke="#808080" stroke-width="1.9" stroke-dasharray="4,3.87"/>
<g clip-path="url(#cL2)">
<polyline points="137.0,552.1 169.2,552.1 201.3,552.1 233.4,552.1 265.6,556.4 297.5,565.1 329.8,594.0 361.9,647.0" fill="none" stroke="#FFD700" stroke-width="2.0" stroke-linejoin="round"/>
<circle cx="137.0" cy="552.1" r="4.15" fill="#FFD700"/>
<circle cx="169.2" cy="552.1" r="4.15" fill="#FFD700"/>
<circle cx="201.3" cy="552.1" r="4.15" fill="#FFD700"/>
<circle cx="233.4" cy="552.1" r="4.15" fill="#FFD700"/>
<circle cx="265.6" cy="556.4" r="4.15" fill="#FFD700"/>
<circle cx="297.5" cy="565.1" r="4.15" fill="#FFD700"/>
<circle cx="329.8" cy="594.0" r="4.15" fill="#FFD700"/>
<circle cx="361.9" cy="647.0" r="4.15" fill="#FFD700"/>
<polyline points="137.0,552.1 169.2,552.1 201.3,552.1 233.4,552.5 265.6,565.4 297.5,597.8 329.8,630.4 361.9,694.8" fill="none" stroke="#FFA500" stroke-width="2.0" stroke-linejoin="round"/>
<circle cx="137.0" cy="552.1" r="4.15" fill="#FFA500"/>
<circle cx="169.2" cy="552.1" r="4.15" fill="#FFA500"/>
<circle cx="201.3" cy="552.1" r="4.15" fill="#FFA500"/>
<circle cx="233.4" cy="552.5" r="4.15" fill="#FFA500"/>
<circle cx="265.6" cy="565.4" r="4.15" fill="#FFA500"/>
<circle cx="297.5" cy="597.8" r="4.15" fill="#FFA500"/>
<circle cx="329.8" cy="630.4" r="4.15" fill="#FFA500"/>
<circle cx="361.9" cy="694.8" r="4.15" fill="#FFA500"/>
<polyline points="137.0,552.1 169.2,552.1 201.3,551.5 233.4,569.9 265.6,589.2 297.5,626.7 329.8,669.4 361.9,700.2" fill="none" stroke="#CD8500" stroke-width="2.0" stroke-linejoin="round"/>
<circle cx="137.0" cy="552.1" r="4.15" fill="#CD8500"/>
<circle cx="169.2" cy="552.1" r="4.15" fill="#CD8500"/>
<circle cx="201.3" cy="551.5" r="4.15" fill="#CD8500"/>
<circle cx="233.4" cy="569.9" r="4.15" fill="#CD8500"/>
<circle cx="265.6" cy="589.2" r="4.15" fill="#CD8500"/>
<circle cx="297.5" cy="626.7" r="4.15" fill="#CD8500"/>
<circle cx="329.8" cy="669.4" r="4.15" fill="#CD8500"/>
<circle cx="361.9" cy="700.2" r="4.15" fill="#CD8500"/>
<polyline points="137.0,552.1 169.2,552.1 201.3,581.4 233.4,594.0 265.6,623.9 297.5,683.6 329.8,682.2 361.9,691.7" fill="none" stroke="#CD4F26" stroke-width="2.0" stroke-linejoin="round"/>
<circle cx="137.0" cy="552.1" r="4.15" fill="#CD4F26"/>
<circle cx="169.2" cy="552.1" r="4.15" fill="#CD4F26"/>
<circle cx="201.3" cy="581.4" r="4.15" fill="#CD4F26"/>
<circle cx="233.4" cy="594.0" r="4.15" fill="#CD4F26"/>
<circle cx="265.6" cy="623.9" r="4.15" fill="#CD4F26"/>
<circle cx="297.5" cy="683.6" r="4.15" fill="#CD4F26"/>
<circle cx="329.8" cy="682.2" r="4.15" fill="#CD4F26"/>
<circle cx="361.9" cy="691.7" r="4.15" fill="#CD4F26"/>
<polyline points="137.0,552.1 169.2,552.1 201.3,606.9 233.4,625.8 265.6,677.2 297.5,672.6 329.8,659.4 361.9,663.2" fill="none" stroke="#990000" stroke-width="2.0" stroke-linejoin="round"/>
<circle cx="137.0" cy="552.1" r="4.15" fill="#990000"/>
<circle cx="169.2" cy="552.1" r="4.15" fill="#990000"/>
<circle cx="201.3" cy="606.9" r="4.15" fill="#990000"/>
<circle cx="233.4" cy="625.8" r="4.15" fill="#990000"/>
<circle cx="265.6" cy="677.2" r="4.15" fill="#990000"/>
<circle cx="297.5" cy="672.6" r="4.15" fill="#990000"/>
<circle cx="329.8" cy="659.4" r="4.15" fill="#990000"/>
<circle cx="361.9" cy="663.2" r="4.15" fill="#990000"/>
<polyline points="137.0,552.1 169.2,590.5 201.3,638.3 233.4,651.8 265.6,668.2 297.5,655.7 329.8,645.2 361.9,650.4" fill="none" stroke="#A6FF00" stroke-width="2.0" stroke-linejoin="round"/>
<circle cx="137.0" cy="552.1" r="4.15" fill="#A6FF00"/>
<circle cx="169.2" cy="590.5" r="4.15" fill="#A6FF00"/>
<circle cx="201.3" cy="638.3" r="4.15" fill="#A6FF00"/>
<circle cx="233.4" cy="651.8" r="4.15" fill="#A6FF00"/>
<circle cx="265.6" cy="668.2" r="4.15" fill="#A6FF00"/>
<circle cx="297.5" cy="655.7" r="4.15" fill="#A6FF00"/>
<circle cx="329.8" cy="645.2" r="4.15" fill="#A6FF00"/>
<circle cx="361.9" cy="650.4" r="4.15" fill="#A6FF00"/>
<polyline points="137.0,552.1 169.2,645.1 201.3,661.1 233.4,655.7 265.6,656.0 297.5,635.0 329.8,634.0 361.9,631.6" fill="none" stroke="#66FF00" stroke-width="2.0" stroke-linejoin="round"/>
<circle cx="137.0" cy="552.1" r="4.15" fill="#66FF00"/>
<circle cx="169.2" cy="645.1" r="4.15" fill="#66FF00"/>
<circle cx="201.3" cy="661.1" r="4.15" fill="#66FF00"/>
<circle cx="233.4" cy="655.7" r="4.15" fill="#66FF00"/>
<circle cx="265.6" cy="656.0" r="4.15" fill="#66FF00"/>
<circle cx="297.5" cy="635.0" r="4.15" fill="#66FF00"/>
<circle cx="329.8" cy="634.0" r="4.15" fill="#66FF00"/>
<circle cx="361.9" cy="631.6" r="4.15" fill="#66FF00"/>
<polyline points="137.0,552.1 169.2,660.5 201.3,654.1 233.4,643.7 265.6,634.5 297.5,624.8 329.8,622.4 361.9,622.8" fill="none" stroke="#66CC00" stroke-width="2.0" stroke-linejoin="round"/>
<circle cx="137.0" cy="552.1" r="4.15" fill="#66CC00"/>
<circle cx="169.2" cy="660.5" r="4.15" fill="#66CC00"/>
<circle cx="201.3" cy="654.1" r="4.15" fill="#66CC00"/>
<circle cx="233.4" cy="643.7" r="4.15" fill="#66CC00"/>
<circle cx="265.6" cy="634.5" r="4.15" fill="#66CC00"/>
<circle cx="297.5" cy="624.8" r="4.15" fill="#66CC00"/>
<circle cx="329.8" cy="622.4" r="4.15" fill="#66CC00"/>
<circle cx="361.9" cy="622.8" r="4.15" fill="#66CC00"/>
<polyline points="137.0,593.0 169.2,632.9 201.3,634.8 233.4,632.9 265.6,619.0 297.5,619.0 329.8,619.5 361.9,620.8" fill="none" stroke="#26CC4D" stroke-width="2.0" stroke-linejoin="round"/>
<circle cx="137.0" cy="593.0" r="4.15" fill="#26CC4D"/>
<circle cx="169.2" cy="632.9" r="4.15" fill="#26CC4D"/>
<circle cx="201.3" cy="634.8" r="4.15" fill="#26CC4D"/>
<circle cx="233.4" cy="632.9" r="4.15" fill="#26CC4D"/>
<circle cx="265.6" cy="619.0" r="4.15" fill="#26CC4D"/>
<circle cx="297.5" cy="619.0" r="4.15" fill="#26CC4D"/>
<circle cx="329.8" cy="619.5" r="4.15" fill="#26CC4D"/>
<circle cx="361.9" cy="620.8" r="4.15" fill="#26CC4D"/>
<polyline points="137.0,624.8 169.2,617.1 201.3,618.7 233.4,617.5 265.6,617.1 297.5,617.5 329.8,617.7 361.9,618.5" fill="none" stroke="#009900" stroke-width="2.0" stroke-linejoin="round"/>
<circle cx="137.0" cy="624.8" r="4.15" fill="#009900"/>
<circle cx="169.2" cy="617.1" r="4.15" fill="#009900"/>
<circle cx="201.3" cy="618.7" r="4.15" fill="#009900"/>
<circle cx="233.4" cy="617.5" r="4.15" fill="#009900"/>
<circle cx="265.6" cy="617.1" r="4.15" fill="#009900"/>
<circle cx="297.5" cy="617.5" r="4.15" fill="#009900"/>
<circle cx="329.8" cy="617.7" r="4.15" fill="#009900"/>
<circle cx="361.9" cy="618.5" r="4.15" fill="#009900"/>
<polyline points="137.0,573.2 169.2,610.4 201.3,624.8 233.4,626.7 265.6,633.5 297.5,634.5 329.8,635.0 361.9,640.6" fill="none" stroke="#000000" stroke-width="4.15" stroke-linejoin="round"/>
<circle cx="137.0" cy="573.2" r="5.6" fill="#000000"/>
<circle cx="169.2" cy="610.4" r="5.6" fill="#000000"/>
<circle cx="201.3" cy="624.8" r="5.6" fill="#000000"/>
<circle cx="233.4" cy="626.7" r="5.6" fill="#000000"/>
<circle cx="265.6" cy="633.5" r="5.6" fill="#000000"/>
<circle cx="297.5" cy="634.5" r="5.6" fill="#000000"/>
<circle cx="329.8" cy="635.0" r="5.6" fill="#000000"/>
<circle cx="361.9" cy="640.6" r="5.6" fill="#000000"/>
</g>
<line x1="412.6" y1="681.8" x2="727.6" y2="681.8" stroke="#808080" stroke-width="1.9" stroke-dasharray="4,3.87"/>
<g clip-path="url(#cR2)">
<polyline points="452.6,746.5 484.8,746.5 516.9,746.5 549.0,746.5 581.2,745.0 613.1,740.2 645.4,734.1 677.5,720.0" fill="none" stroke="#FFD700" stroke-width="2.0" stroke-linejoin="round"/>
<circle cx="452.6" cy="746.5" r="4.15" fill="#FFD700"/>
<circle cx="484.8" cy="746.5" r="4.15" fill="#FFD700"/>
<circle cx="516.9" cy="746.5" r="4.15" fill="#FFD700"/>
<circle cx="549.0" cy="746.5" r="4.15" fill="#FFD700"/>
<circle cx="581.2" cy="745.0" r="4.15" fill="#FFD700"/>
<circle cx="613.1" cy="740.2" r="4.15" fill="#FFD700"/>
<circle cx="645.4" cy="734.1" r="4.15" fill="#FFD700"/>
<circle cx="677.5" cy="720.0" r="4.15" fill="#FFD700"/>
<polyline points="452.6,746.5 484.8,746.5 516.9,746.5 549.0,745.0 581.2,737.9 613.1,719.4 645.4,711.3 677.5,717.1" fill="none" stroke="#FFA500" stroke-width="2.0" stroke-linejoin="round"/>
<circle cx="452.6" cy="746.5" r="4.15" fill="#FFA500"/>
<circle cx="484.8" cy="746.5" r="4.15" fill="#FFA500"/>
<circle cx="516.9" cy="746.5" r="4.15" fill="#FFA500"/>
<circle cx="549.0" cy="745.0" r="4.15" fill="#FFA500"/>
<circle cx="581.2" cy="737.9" r="4.15" fill="#FFA500"/>
<circle cx="613.1" cy="719.4" r="4.15" fill="#FFA500"/>
<circle cx="645.4" cy="711.3" r="4.15" fill="#FFA500"/>
<circle cx="677.5" cy="717.1" r="4.15" fill="#FFA500"/>
<polyline points="452.6,746.5 484.8,746.5 516.9,745.6 549.0,729.6 581.2,720.6 613.1,700.7 645.4,700.7 677.5,714.2" fill="none" stroke="#CD8500" stroke-width="2.0" stroke-linejoin="round"/>
<circle cx="452.6" cy="746.5" r="4.15" fill="#CD8500"/>
<circle cx="484.8" cy="746.5" r="4.15" fill="#CD8500"/>
<circle cx="516.9" cy="745.6" r="4.15" fill="#CD8500"/>
<circle cx="549.0" cy="729.6" r="4.15" fill="#CD8500"/>
<circle cx="581.2" cy="720.6" r="4.15" fill="#CD8500"/>
<circle cx="613.1" cy="700.7" r="4.15" fill="#CD8500"/>
<circle cx="645.4" cy="700.7" r="4.15" fill="#CD8500"/>
<circle cx="677.5" cy="714.2" r="4.15" fill="#CD8500"/>
<polyline points="452.6,746.5 484.8,746.5 516.9,718.6 549.0,713.2 581.2,698.8 613.1,696.5 645.4,705.5 677.5,729.6" fill="none" stroke="#CD4F26" stroke-width="2.0" stroke-linejoin="round"/>
<circle cx="452.6" cy="746.5" r="4.15" fill="#CD4F26"/>
<circle cx="484.8" cy="746.5" r="4.15" fill="#CD4F26"/>
<circle cx="516.9" cy="718.6" r="4.15" fill="#CD4F26"/>
<circle cx="549.0" cy="713.2" r="4.15" fill="#CD4F26"/>
<circle cx="581.2" cy="698.8" r="4.15" fill="#CD4F26"/>
<circle cx="613.1" cy="696.5" r="4.15" fill="#CD4F26"/>
<circle cx="645.4" cy="705.5" r="4.15" fill="#CD4F26"/>
<circle cx="677.5" cy="729.6" r="4.15" fill="#CD4F26"/>
<polyline points="452.6,746.5 484.8,746.5 516.9,702.1 549.0,688.8 581.2,683.4 613.1,710.9 645.4,719.0 677.5,724.4" fill="none" stroke="#990000" stroke-width="2.0" stroke-linejoin="round"/>
<circle cx="452.6" cy="746.5" r="4.15" fill="#990000"/>
<circle cx="484.8" cy="746.5" r="4.15" fill="#990000"/>
<circle cx="516.9" cy="702.1" r="4.15" fill="#990000"/>
<circle cx="549.0" cy="688.8" r="4.15" fill="#990000"/>
<circle cx="581.2" cy="683.4" r="4.15" fill="#990000"/>
<circle cx="613.1" cy="710.9" r="4.15" fill="#990000"/>
<circle cx="645.4" cy="719.0" r="4.15" fill="#990000"/>
<circle cx="677.5" cy="724.4" r="4.15" fill="#990000"/>
<polyline points="452.6,746.5 484.8,711.3 516.9,680.5 549.0,675.7 581.2,695.9 613.1,714.2 645.4,707.1 677.5,709.4" fill="none" stroke="#A6FF00" stroke-width="2.0" stroke-linejoin="round"/>
<circle cx="452.6" cy="746.5" r="4.15" fill="#A6FF00"/>
<circle cx="484.8" cy="711.3" r="4.15" fill="#A6FF00"/>
<circle cx="516.9" cy="680.5" r="4.15" fill="#A6FF00"/>
<circle cx="549.0" cy="675.7" r="4.15" fill="#A6FF00"/>
<circle cx="581.2" cy="695.9" r="4.15" fill="#A6FF00"/>
<circle cx="613.1" cy="714.2" r="4.15" fill="#A6FF00"/>
<circle cx="645.4" cy="707.1" r="4.15" fill="#A6FF00"/>
<circle cx="677.5" cy="709.4" r="4.15" fill="#A6FF00"/>
<polyline points="452.6,746.5 484.8,677.5 516.9,666.6 549.0,684.0 581.2,709.8 613.1,698.8 645.4,695.5 677.5,698.5" fill="none" stroke="#66FF00" stroke-width="2.0" stroke-linejoin="round"/>
<circle cx="452.6" cy="746.5" r="4.15" fill="#66FF00"/>
<circle cx="484.8" cy="677.5" r="4.15" fill="#66FF00"/>
<circle cx="516.9" cy="666.6" r="4.15" fill="#66FF00"/>
<circle cx="549.0" cy="684.0" r="4.15" fill="#66FF00"/>
<circle cx="581.2" cy="709.8" r="4.15" fill="#66FF00"/>
<circle cx="613.1" cy="698.8" r="4.15" fill="#66FF00"/>
<circle cx="645.4" cy="695.5" r="4.15" fill="#66FF00"/>
<circle cx="677.5" cy="698.5" r="4.15" fill="#66FF00"/>
<polyline points="452.6,746.5 484.8,670.8 516.9,687.2 549.0,699.8 581.2,697.8 613.1,687.2 645.4,686.3 677.5,689.5" fill="none" stroke="#66CC00" stroke-width="2.0" stroke-linejoin="round"/>
<circle cx="452.6" cy="746.5" r="4.15" fill="#66CC00"/>
<circle cx="484.8" cy="670.8" r="4.15" fill="#66CC00"/>
<circle cx="516.9" cy="687.2" r="4.15" fill="#66CC00"/>
<circle cx="549.0" cy="699.8" r="4.15" fill="#66CC00"/>
<circle cx="581.2" cy="697.8" r="4.15" fill="#66CC00"/>
<circle cx="613.1" cy="687.2" r="4.15" fill="#66CC00"/>
<circle cx="645.4" cy="686.3" r="4.15" fill="#66CC00"/>
<circle cx="677.5" cy="689.5" r="4.15" fill="#66CC00"/>
<polyline points="452.6,705.5 484.8,697.4 516.9,698.8 549.0,692.0 581.2,688.2 613.1,682.8 645.4,683.5 677.5,685.3" fill="none" stroke="#26CC4D" stroke-width="2.0" stroke-linejoin="round"/>
<circle cx="452.6" cy="705.5" r="4.15" fill="#26CC4D"/>
<circle cx="484.8" cy="697.4" r="4.15" fill="#26CC4D"/>
<circle cx="516.9" cy="698.8" r="4.15" fill="#26CC4D"/>
<circle cx="549.0" cy="692.0" r="4.15" fill="#26CC4D"/>
<circle cx="581.2" cy="688.2" r="4.15" fill="#26CC4D"/>
<circle cx="613.1" cy="682.8" r="4.15" fill="#26CC4D"/>
<circle cx="645.4" cy="683.5" r="4.15" fill="#26CC4D"/>
<circle cx="677.5" cy="685.3" r="4.15" fill="#26CC4D"/>
<polyline points="452.6,673.3 484.8,688.2 516.9,687.2 549.0,683.4 581.2,681.4 613.1,681.4 645.4,682.0 677.5,683.4" fill="none" stroke="#009900" stroke-width="2.0" stroke-linejoin="round"/>
<circle cx="452.6" cy="673.3" r="4.15" fill="#009900"/>
<circle cx="484.8" cy="688.2" r="4.15" fill="#009900"/>
<circle cx="516.9" cy="687.2" r="4.15" fill="#009900"/>
<circle cx="549.0" cy="683.4" r="4.15" fill="#009900"/>
<circle cx="581.2" cy="681.4" r="4.15" fill="#009900"/>
<circle cx="613.1" cy="681.4" r="4.15" fill="#009900"/>
<circle cx="645.4" cy="682.0" r="4.15" fill="#009900"/>
<circle cx="677.5" cy="683.4" r="4.15" fill="#009900"/>
<polyline points="452.6,725.4 484.8,702.6 516.9,694.9 549.0,694.9 581.2,696.5 613.1,694.9 645.4,694.9 677.5,699.2" fill="none" stroke="#000000" stroke-width="4.15" stroke-linejoin="round"/>
<circle cx="452.6" cy="725.4" r="5.6" fill="#000000"/>
<circle cx="484.8" cy="702.6" r="5.6" fill="#000000"/>
<circle cx="516.9" cy="694.9" r="5.6" fill="#000000"/>
<circle cx="549.0" cy="694.9" r="5.6" fill="#000000"/>
<circle cx="581.2" cy="696.5" r="5.6" fill="#000000"/>
<circle cx="613.1" cy="694.9" r="5.6" fill="#000000"/>
<circle cx="645.4" cy="694.9" r="5.6" fill="#000000"/>
<circle cx="677.5" cy="699.2" r="5.6" fill="#000000"/>
</g>
<line x1="97.4" y1="98.1" x2="97.4" y2="110.4" stroke="#000" stroke-width="1.5"/>
<line x1="97.4" y1="305.0" x2="97.4" y2="317.3" stroke="#000" stroke-width="1.5"/>
<line x1="310.7" y1="98.1" x2="310.7" y2="110.4" stroke="#000" stroke-width="1.5"/>
<line x1="310.7" y1="305.0" x2="310.7" y2="317.3" stroke="#000" stroke-width="1.5"/>
<line x1="161.6" y1="104.2" x2="161.6" y2="110.4" stroke="#000" stroke-width="1.5"/>
<line x1="161.6" y1="305.0" x2="161.6" y2="311.2" stroke="#000" stroke-width="1.5"/>
<line x1="199.2" y1="104.2" x2="199.2" y2="110.4" stroke="#000" stroke-width="1.5"/>
<line x1="199.2" y1="305.0" x2="199.2" y2="311.2" stroke="#000" stroke-width="1.5"/>
<line x1="225.8" y1="104.2" x2="225.8" y2="110.4" stroke="#000" stroke-width="1.5"/>
<line x1="225.8" y1="305.0" x2="225.8" y2="311.2" stroke="#000" stroke-width="1.5"/>
<line x1="246.5" y1="104.2" x2="246.5" y2="110.4" stroke="#000" stroke-width="1.5"/>
<line x1="246.5" y1="305.0" x2="246.5" y2="311.2" stroke="#000" stroke-width="1.5"/>
<line x1="263.4" y1="104.2" x2="263.4" y2="110.4" stroke="#000" stroke-width="1.5"/>
<line x1="263.4" y1="305.0" x2="263.4" y2="311.2" stroke="#000" stroke-width="1.5"/>
<line x1="277.7" y1="104.2" x2="277.7" y2="110.4" stroke="#000" stroke-width="1.5"/>
<line x1="277.7" y1="305.0" x2="277.7" y2="311.2" stroke="#000" stroke-width="1.5"/>
<line x1="290.0" y1="104.2" x2="290.0" y2="110.4" stroke="#000" stroke-width="1.5"/>
<line x1="290.0" y1="305.0" x2="290.0" y2="311.2" stroke="#000" stroke-width="1.5"/>
<line x1="300.9" y1="104.2" x2="300.9" y2="110.4" stroke="#000" stroke-width="1.5"/>
<line x1="300.9" y1="305.0" x2="300.9" y2="311.2" stroke="#000" stroke-width="1.5"/>
<line x1="374.9" y1="104.2" x2="374.9" y2="110.4" stroke="#000" stroke-width="1.5"/>
<line x1="374.9" y1="305.0" x2="374.9" y2="311.2" stroke="#000" stroke-width="1.5"/>
<line x1="412.5" y1="104.2" x2="412.5" y2="110.4" stroke="#000" stroke-width="1.5"/>
<line x1="412.5" y1="305.0" x2="412.5" y2="311.2" stroke="#000" stroke-width="1.5"/>
<line x1="412.6" y1="98.1" x2="412.6" y2="110.4" stroke="#000" stroke-width="1.5"/>
<line x1="412.6" y1="305.0" x2="412.6" y2="317.3" stroke="#000" stroke-width="1.5"/>
<line x1="625.9" y1="98.1" x2="625.9" y2="110.4" stroke="#000" stroke-width="1.5"/>
<line x1="625.9" y1="305.0" x2="625.9" y2="317.3" stroke="#000" stroke-width="1.5"/>
<line x1="476.8" y1="104.2" x2="476.8" y2="110.4" stroke="#000" stroke-width="1.5"/>
<line x1="476.8" y1="305.0" x2="476.8" y2="311.2" stroke="#000" stroke-width="1.5"/>
<line x1="514.4" y1="104.2" x2="514.4" y2="110.4" stroke="#000" stroke-width="1.5"/>
<line x1="514.4" y1="305.0" x2="514.4" y2="311.2" stroke="#000" stroke-width="1.5"/>
<line x1="541.0" y1="104.2" x2="541.0" y2="110.4" stroke="#000" stroke-width="1.5"/>
<line x1="541.0" y1="305.0" x2="541.0" y2="311.2" stroke="#000" stroke-width="1.5"/>
<line x1="561.7" y1="104.2" x2="561.7" y2="110.4" stroke="#000" stroke-width="1.5"/>
<line x1="561.7" y1="305.0" x2="561.7" y2="311.2" stroke="#000" stroke-width="1.5"/>
<line x1="578.6" y1="104.2" x2="578.6" y2="110.4" stroke="#000" stroke-width="1.5"/>
<line x1="578.6" y1="305.0" x2="578.6" y2="311.2" stroke="#000" stroke-width="1.5"/>
<line x1="592.9" y1="104.2" x2="592.9" y2="110.4" stroke="#000" stroke-width="1.5"/>
<line x1="592.9" y1="305.0" x2="592.9" y2="311.2" stroke="#000" stroke-width="1.5"/>
<line x1="605.2" y1="104.2" x2="605.2" y2="110.4" stroke="#000" stroke-width="1.5"/>
<line x1="605.2" y1="305.0" x2="605.2" y2="311.2" stroke="#000" stroke-width="1.5"/>
<line x1="616.1" y1="104.2" x2="616.1" y2="110.4" stroke="#000" stroke-width="1.5"/>
<line x1="616.1" y1="305.0" x2="616.1" y2="311.2" stroke="#000" stroke-width="1.5"/>
<line x1="690.1" y1="104.2" x2="690.1" y2="110.4" stroke="#000" stroke-width="1.5"/>
<line x1="690.1" y1="305.0" x2="690.1" y2="311.2" stroke="#000" stroke-width="1.5"/>
<line x1="727.7" y1="104.2" x2="727.7" y2="110.4" stroke="#000" stroke-width="1.5"/>
<line x1="727.7" y1="305.0" x2="727.7" y2="311.2" stroke="#000" stroke-width="1.5"/>
<line x1="85.1" y1="110.4" x2="97.4" y2="110.4" stroke="#000" stroke-width="1.5"/>
<line x1="400.3" y1="110.4" x2="424.9" y2="110.4" stroke="#000" stroke-width="1.5"/>
<line x1="727.6" y1="110.4" x2="739.9" y2="110.4" stroke="#000" stroke-width="1.5"/>
<line x1="91.2" y1="142.8" x2="97.4" y2="142.8" stroke="#000" stroke-width="1.5"/>
<line x1="406.4" y1="142.8" x2="418.8" y2="142.8" stroke="#000" stroke-width="1.5"/>
<line x1="727.6" y1="142.8" x2="733.8" y2="142.8" stroke="#000" stroke-width="1.5"/>
<line x1="85.1" y1="175.2" x2="97.4" y2="175.2" stroke="#000" stroke-width="1.5"/>
<line x1="400.3" y1="175.2" x2="424.9" y2="175.2" stroke="#000" stroke-width="1.5"/>
<line x1="727.6" y1="175.2" x2="739.9" y2="175.2" stroke="#000" stroke-width="1.5"/>
<line x1="91.2" y1="207.6" x2="97.4" y2="207.6" stroke="#000" stroke-width="1.5"/>
<line x1="406.4" y1="207.6" x2="418.8" y2="207.6" stroke="#000" stroke-width="1.5"/>
<line x1="727.6" y1="207.6" x2="733.8" y2="207.6" stroke="#000" stroke-width="1.5"/>
<line x1="85.1" y1="240.1" x2="97.4" y2="240.1" stroke="#000" stroke-width="1.5"/>
<line x1="400.3" y1="240.1" x2="424.9" y2="240.1" stroke="#000" stroke-width="1.5"/>
<line x1="727.6" y1="240.1" x2="739.9" y2="240.1" stroke="#000" stroke-width="1.5"/>
<line x1="91.2" y1="272.5" x2="97.4" y2="272.5" stroke="#000" stroke-width="1.5"/>
<line x1="406.4" y1="272.5" x2="418.8" y2="272.5" stroke="#000" stroke-width="1.5"/>
<line x1="727.6" y1="272.5" x2="733.8" y2="272.5" stroke="#000" stroke-width="1.5"/>
<line x1="85.1" y1="304.9" x2="97.4" y2="304.9" stroke="#000" stroke-width="1.5"/>
<line x1="400.3" y1="304.9" x2="424.9" y2="304.9" stroke="#000" stroke-width="1.5"/>
<line x1="727.6" y1="304.9" x2="739.9" y2="304.9" stroke="#000" stroke-width="1.5"/>
<rect x="97.4" y="110.4" width="630.2" height="194.6" fill="none" stroke="#000" stroke-width="2.8"/>
<line x1="412.6" y1="110.4" x2="412.6" y2="305.0" stroke="#000" stroke-width="2.8"/>
<line x1="97.4" y1="319.1" x2="97.4" y2="331.4" stroke="#000" stroke-width="1.5"/>
<line x1="97.4" y1="525.9" x2="97.4" y2="538.2" stroke="#000" stroke-width="1.5"/>
<line x1="310.7" y1="319.1" x2="310.7" y2="331.4" stroke="#000" stroke-width="1.5"/>
<line x1="310.7" y1="525.9" x2="310.7" y2="538.2" stroke="#000" stroke-width="1.5"/>
<line x1="161.6" y1="325.2" x2="161.6" y2="331.4" stroke="#000" stroke-width="1.5"/>
<line x1="161.6" y1="525.9" x2="161.6" y2="532.1" stroke="#000" stroke-width="1.5"/>
<line x1="199.2" y1="325.2" x2="199.2" y2="331.4" stroke="#000" stroke-width="1.5"/>
<line x1="199.2" y1="525.9" x2="199.2" y2="532.1" stroke="#000" stroke-width="1.5"/>
<line x1="225.8" y1="325.2" x2="225.8" y2="331.4" stroke="#000" stroke-width="1.5"/>
<line x1="225.8" y1="525.9" x2="225.8" y2="532.1" stroke="#000" stroke-width="1.5"/>
<line x1="246.5" y1="325.2" x2="246.5" y2="331.4" stroke="#000" stroke-width="1.5"/>
<line x1="246.5" y1="525.9" x2="246.5" y2="532.1" stroke="#000" stroke-width="1.5"/>
<line x1="263.4" y1="325.2" x2="263.4" y2="331.4" stroke="#000" stroke-width="1.5"/>
<line x1="263.4" y1="525.9" x2="263.4" y2="532.1" stroke="#000" stroke-width="1.5"/>
<line x1="277.7" y1="325.2" x2="277.7" y2="331.4" stroke="#000" stroke-width="1.5"/>
<line x1="277.7" y1="525.9" x2="277.7" y2="532.1" stroke="#000" stroke-width="1.5"/>
<line x1="290.0" y1="325.2" x2="290.0" y2="331.4" stroke="#000" stroke-width="1.5"/>
<line x1="290.0" y1="525.9" x2="290.0" y2="532.1" stroke="#000" stroke-width="1.5"/>
<line x1="300.9" y1="325.2" x2="300.9" y2="331.4" stroke="#000" stroke-width="1.5"/>
<line x1="300.9" y1="525.9" x2="300.9" y2="532.1" stroke="#000" stroke-width="1.5"/>
<line x1="374.9" y1="325.2" x2="374.9" y2="331.4" stroke="#000" stroke-width="1.5"/>
<line x1="374.9" y1="525.9" x2="374.9" y2="532.1" stroke="#000" stroke-width="1.5"/>
<line x1="412.5" y1="325.2" x2="412.5" y2="331.4" stroke="#000" stroke-width="1.5"/>
<line x1="412.5" y1="525.9" x2="412.5" y2="532.1" stroke="#000" stroke-width="1.5"/>
<line x1="412.6" y1="319.1" x2="412.6" y2="331.4" stroke="#000" stroke-width="1.5"/>
<line x1="412.6" y1="525.9" x2="412.6" y2="538.2" stroke="#000" stroke-width="1.5"/>
<line x1="625.9" y1="319.1" x2="625.9" y2="331.4" stroke="#000" stroke-width="1.5"/>
<line x1="625.9" y1="525.9" x2="625.9" y2="538.2" stroke="#000" stroke-width="1.5"/>
<line x1="476.8" y1="325.2" x2="476.8" y2="331.4" stroke="#000" stroke-width="1.5"/>
<line x1="476.8" y1="525.9" x2="476.8" y2="532.1" stroke="#000" stroke-width="1.5"/>
<line x1="514.4" y1="325.2" x2="514.4" y2="331.4" stroke="#000" stroke-width="1.5"/>
<line x1="514.4" y1="525.9" x2="514.4" y2="532.1" stroke="#000" stroke-width="1.5"/>
<line x1="541.0" y1="325.2" x2="541.0" y2="331.4" stroke="#000" stroke-width="1.5"/>
<line x1="541.0" y1="525.9" x2="541.0" y2="532.1" stroke="#000" stroke-width="1.5"/>
<line x1="561.7" y1="325.2" x2="561.7" y2="331.4" stroke="#000" stroke-width="1.5"/>
<line x1="561.7" y1="525.9" x2="561.7" y2="532.1" stroke="#000" stroke-width="1.5"/>
<line x1="578.6" y1="325.2" x2="578.6" y2="331.4" stroke="#000" stroke-width="1.5"/>
<line x1="578.6" y1="525.9" x2="578.6" y2="532.1" stroke="#000" stroke-width="1.5"/>
<line x1="592.9" y1="325.2" x2="592.9" y2="331.4" stroke="#000" stroke-width="1.5"/>
<line x1="592.9" y1="525.9" x2="592.9" y2="532.1" stroke="#000" stroke-width="1.5"/>
<line x1="605.2" y1="325.2" x2="605.2" y2="331.4" stroke="#000" stroke-width="1.5"/>
<line x1="605.2" y1="525.9" x2="605.2" y2="532.1" stroke="#000" stroke-width="1.5"/>
<line x1="616.1" y1="325.2" x2="616.1" y2="331.4" stroke="#000" stroke-width="1.5"/>
<line x1="616.1" y1="525.9" x2="616.1" y2="532.1" stroke="#000" stroke-width="1.5"/>
<line x1="690.1" y1="325.2" x2="690.1" y2="331.4" stroke="#000" stroke-width="1.5"/>
<line x1="690.1" y1="525.9" x2="690.1" y2="532.1" stroke="#000" stroke-width="1.5"/>
<line x1="727.7" y1="325.2" x2="727.7" y2="331.4" stroke="#000" stroke-width="1.5"/>
<line x1="727.7" y1="525.9" x2="727.7" y2="532.1" stroke="#000" stroke-width="1.5"/>
<line x1="85.1" y1="331.4" x2="97.4" y2="331.4" stroke="#000" stroke-width="1.5"/>
<line x1="400.3" y1="331.4" x2="424.9" y2="331.4" stroke="#000" stroke-width="1.5"/>
<line x1="727.6" y1="331.4" x2="739.9" y2="331.4" stroke="#000" stroke-width="1.5"/>
<line x1="91.2" y1="363.8" x2="97.4" y2="363.8" stroke="#000" stroke-width="1.5"/>
<line x1="406.4" y1="363.8" x2="418.8" y2="363.8" stroke="#000" stroke-width="1.5"/>
<line x1="727.6" y1="363.8" x2="733.8" y2="363.8" stroke="#000" stroke-width="1.5"/>
<line x1="85.1" y1="396.2" x2="97.4" y2="396.2" stroke="#000" stroke-width="1.5"/>
<line x1="400.3" y1="396.2" x2="424.9" y2="396.2" stroke="#000" stroke-width="1.5"/>
<line x1="727.6" y1="396.2" x2="739.9" y2="396.2" stroke="#000" stroke-width="1.5"/>
<line x1="91.2" y1="428.6" x2="97.4" y2="428.6" stroke="#000" stroke-width="1.5"/>
<line x1="406.4" y1="428.6" x2="418.8" y2="428.6" stroke="#000" stroke-width="1.5"/>
<line x1="727.6" y1="428.6" x2="733.8" y2="428.6" stroke="#000" stroke-width="1.5"/>
<line x1="85.1" y1="461.1" x2="97.4" y2="461.1" stroke="#000" stroke-width="1.5"/>
<line x1="400.3" y1="461.1" x2="424.9" y2="461.1" stroke="#000" stroke-width="1.5"/>
<line x1="727.6" y1="461.1" x2="739.9" y2="461.1" stroke="#000" stroke-width="1.5"/>
<line x1="91.2" y1="493.5" x2="97.4" y2="493.5" stroke="#000" stroke-width="1.5"/>
<line x1="406.4" y1="493.5" x2="418.8" y2="493.5" stroke="#000" stroke-width="1.5"/>
<line x1="727.6" y1="493.5" x2="733.8" y2="493.5" stroke="#000" stroke-width="1.5"/>
<line x1="85.1" y1="525.9" x2="97.4" y2="525.9" stroke="#000" stroke-width="1.5"/>
<line x1="400.3" y1="525.9" x2="424.9" y2="525.9" stroke="#000" stroke-width="1.5"/>
<line x1="727.6" y1="525.9" x2="739.9" y2="525.9" stroke="#000" stroke-width="1.5"/>
<rect x="97.4" y="331.4" width="630.2" height="194.5" fill="none" stroke="#000" stroke-width="2.8"/>
<line x1="412.6" y1="331.4" x2="412.6" y2="525.9" stroke="#000" stroke-width="2.8"/>
<line x1="97.4" y1="539.8" x2="97.4" y2="552.1" stroke="#000" stroke-width="1.5"/>
<line x1="97.4" y1="746.5" x2="97.4" y2="758.8" stroke="#000" stroke-width="1.5"/>
<line x1="310.7" y1="539.8" x2="310.7" y2="552.1" stroke="#000" stroke-width="1.5"/>
<line x1="310.7" y1="746.5" x2="310.7" y2="758.8" stroke="#000" stroke-width="1.5"/>
<line x1="161.6" y1="545.9" x2="161.6" y2="552.1" stroke="#000" stroke-width="1.5"/>
<line x1="161.6" y1="746.5" x2="161.6" y2="752.7" stroke="#000" stroke-width="1.5"/>
<line x1="199.2" y1="545.9" x2="199.2" y2="552.1" stroke="#000" stroke-width="1.5"/>
<line x1="199.2" y1="746.5" x2="199.2" y2="752.7" stroke="#000" stroke-width="1.5"/>
<line x1="225.8" y1="545.9" x2="225.8" y2="552.1" stroke="#000" stroke-width="1.5"/>
<line x1="225.8" y1="746.5" x2="225.8" y2="752.7" stroke="#000" stroke-width="1.5"/>
<line x1="246.5" y1="545.9" x2="246.5" y2="552.1" stroke="#000" stroke-width="1.5"/>
<line x1="246.5" y1="746.5" x2="246.5" y2="752.7" stroke="#000" stroke-width="1.5"/>
<line x1="263.4" y1="545.9" x2="263.4" y2="552.1" stroke="#000" stroke-width="1.5"/>
<line x1="263.4" y1="746.5" x2="263.4" y2="752.7" stroke="#000" stroke-width="1.5"/>
<line x1="277.7" y1="545.9" x2="277.7" y2="552.1" stroke="#000" stroke-width="1.5"/>
<line x1="277.7" y1="746.5" x2="277.7" y2="752.7" stroke="#000" stroke-width="1.5"/>
<line x1="290.0" y1="545.9" x2="290.0" y2="552.1" stroke="#000" stroke-width="1.5"/>
<line x1="290.0" y1="746.5" x2="290.0" y2="752.7" stroke="#000" stroke-width="1.5"/>
<line x1="300.9" y1="545.9" x2="300.9" y2="552.1" stroke="#000" stroke-width="1.5"/>
<line x1="300.9" y1="746.5" x2="300.9" y2="752.7" stroke="#000" stroke-width="1.5"/>
<line x1="374.9" y1="545.9" x2="374.9" y2="552.1" stroke="#000" stroke-width="1.5"/>
<line x1="374.9" y1="746.5" x2="374.9" y2="752.7" stroke="#000" stroke-width="1.5"/>
<line x1="412.5" y1="545.9" x2="412.5" y2="552.1" stroke="#000" stroke-width="1.5"/>
<line x1="412.5" y1="746.5" x2="412.5" y2="752.7" stroke="#000" stroke-width="1.5"/>
<line x1="412.6" y1="539.8" x2="412.6" y2="552.1" stroke="#000" stroke-width="1.5"/>
<line x1="412.6" y1="746.5" x2="412.6" y2="758.8" stroke="#000" stroke-width="1.5"/>
<line x1="625.9" y1="539.8" x2="625.9" y2="552.1" stroke="#000" stroke-width="1.5"/>
<line x1="625.9" y1="746.5" x2="625.9" y2="758.8" stroke="#000" stroke-width="1.5"/>
<line x1="476.8" y1="545.9" x2="476.8" y2="552.1" stroke="#000" stroke-width="1.5"/>
<line x1="476.8" y1="746.5" x2="476.8" y2="752.7" stroke="#000" stroke-width="1.5"/>
<line x1="514.4" y1="545.9" x2="514.4" y2="552.1" stroke="#000" stroke-width="1.5"/>
<line x1="514.4" y1="746.5" x2="514.4" y2="752.7" stroke="#000" stroke-width="1.5"/>
<line x1="541.0" y1="545.9" x2="541.0" y2="552.1" stroke="#000" stroke-width="1.5"/>
<line x1="541.0" y1="746.5" x2="541.0" y2="752.7" stroke="#000" stroke-width="1.5"/>
<line x1="561.7" y1="545.9" x2="561.7" y2="552.1" stroke="#000" stroke-width="1.5"/>
<line x1="561.7" y1="746.5" x2="561.7" y2="752.7" stroke="#000" stroke-width="1.5"/>
<line x1="578.6" y1="545.9" x2="578.6" y2="552.1" stroke="#000" stroke-width="1.5"/>
<line x1="578.6" y1="746.5" x2="578.6" y2="752.7" stroke="#000" stroke-width="1.5"/>
<line x1="592.9" y1="545.9" x2="592.9" y2="552.1" stroke="#000" stroke-width="1.5"/>
<line x1="592.9" y1="746.5" x2="592.9" y2="752.7" stroke="#000" stroke-width="1.5"/>
<line x1="605.2" y1="545.9" x2="605.2" y2="552.1" stroke="#000" stroke-width="1.5"/>
<line x1="605.2" y1="746.5" x2="605.2" y2="752.7" stroke="#000" stroke-width="1.5"/>
<line x1="616.1" y1="545.9" x2="616.1" y2="552.1" stroke="#000" stroke-width="1.5"/>
<line x1="616.1" y1="746.5" x2="616.1" y2="752.7" stroke="#000" stroke-width="1.5"/>
<line x1="690.1" y1="545.9" x2="690.1" y2="552.1" stroke="#000" stroke-width="1.5"/>
<line x1="690.1" y1="746.5" x2="690.1" y2="752.7" stroke="#000" stroke-width="1.5"/>
<line x1="727.7" y1="545.9" x2="727.7" y2="552.1" stroke="#000" stroke-width="1.5"/>
<line x1="727.7" y1="746.5" x2="727.7" y2="752.7" stroke="#000" stroke-width="1.5"/>
<line x1="85.1" y1="552.1" x2="97.4" y2="552.1" stroke="#000" stroke-width="1.5"/>
<line x1="400.3" y1="552.1" x2="424.9" y2="552.1" stroke="#000" stroke-width="1.5"/>
<line x1="727.6" y1="552.1" x2="739.9" y2="552.1" stroke="#000" stroke-width="1.5"/>
<line x1="91.2" y1="584.5" x2="97.4" y2="584.5" stroke="#000" stroke-width="1.5"/>
<line x1="406.4" y1="584.5" x2="418.8" y2="584.5" stroke="#000" stroke-width="1.5"/>
<line x1="727.6" y1="584.5" x2="733.8" y2="584.5" stroke="#000" stroke-width="1.5"/>
<line x1="85.1" y1="616.9" x2="97.4" y2="616.9" stroke="#000" stroke-width="1.5"/>
<line x1="400.3" y1="616.9" x2="424.9" y2="616.9" stroke="#000" stroke-width="1.5"/>
<line x1="727.6" y1="616.9" x2="739.9" y2="616.9" stroke="#000" stroke-width="1.5"/>
<line x1="91.2" y1="649.3" x2="97.4" y2="649.3" stroke="#000" stroke-width="1.5"/>
<line x1="406.4" y1="649.3" x2="418.8" y2="649.3" stroke="#000" stroke-width="1.5"/>
<line x1="727.6" y1="649.3" x2="733.8" y2="649.3" stroke="#000" stroke-width="1.5"/>
<line x1="85.1" y1="681.8" x2="97.4" y2="681.8" stroke="#000" stroke-width="1.5"/>
<line x1="400.3" y1="681.8" x2="424.9" y2="681.8" stroke="#000" stroke-width="1.5"/>
<line x1="727.6" y1="681.8" x2="739.9" y2="681.8" stroke="#000" stroke-width="1.5"/>
<line x1="91.2" y1="714.2" x2="97.4" y2="714.2" stroke="#000" stroke-width="1.5"/>
<line x1="406.4" y1="714.2" x2="418.8" y2="714.2" stroke="#000" stroke-width="1.5"/>
<line x1="727.6" y1="714.2" x2="733.8" y2="714.2" stroke="#000" stroke-width="1.5"/>
<line x1="85.1" y1="746.6" x2="97.4" y2="746.6" stroke="#000" stroke-width="1.5"/>
<line x1="400.3" y1="746.6" x2="424.9" y2="746.6" stroke="#000" stroke-width="1.5"/>
<line x1="727.6" y1="746.6" x2="739.9" y2="746.6" stroke="#000" stroke-width="1.5"/>
<rect x="97.4" y="552.1" width="630.2" height="194.4" fill="none" stroke="#000" stroke-width="2.8"/>
<line x1="412.6" y1="552.1" x2="412.6" y2="746.5" stroke="#000" stroke-width="2.8"/>
<text transform="translate(69.3,119.4) scale(0.97,1)" font-size="26.3" text-anchor="end">1</text>
<text transform="translate(69.3,184.2) scale(0.97,1)" font-size="26.3" text-anchor="end">0</text>
<text transform="translate(69.3,249.1) scale(0.97,1)" font-size="26.3" text-anchor="end">-1</text>
<text transform="translate(69.3,313.9) scale(0.97,1)" font-size="26.3" text-anchor="end">-2</text>
<text transform="translate(775.7,119.4) scale(0.97,1)" font-size="26.3" text-anchor="end">2</text>
<text transform="translate(775.7,184.2) scale(0.97,1)" font-size="26.3" text-anchor="end">1</text>
<text transform="translate(775.7,249.1) scale(0.97,1)" font-size="26.3" text-anchor="end">0</text>
<text transform="translate(775.7,313.9) scale(0.97,1)" font-size="26.3" text-anchor="end">-1</text>
<text transform="translate(69.3,340.4) scale(0.97,1)" font-size="26.3" text-anchor="end">1</text>
<text transform="translate(69.3,405.2) scale(0.97,1)" font-size="26.3" text-anchor="end">0</text>
<text transform="translate(69.3,470.1) scale(0.97,1)" font-size="26.3" text-anchor="end">-1</text>
<text transform="translate(69.3,534.9) scale(0.97,1)" font-size="26.3" text-anchor="end">-2</text>
<text transform="translate(775.7,340.4) scale(0.97,1)" font-size="26.3" text-anchor="end">2</text>
<text transform="translate(775.7,405.2) scale(0.97,1)" font-size="26.3" text-anchor="end">1</text>
<text transform="translate(775.7,470.1) scale(0.97,1)" font-size="26.3" text-anchor="end">0</text>
<text transform="translate(775.7,534.9) scale(0.97,1)" font-size="26.3" text-anchor="end">-1</text>
<text transform="translate(69.3,561.1) scale(0.97,1)" font-size="26.3" text-anchor="end">1</text>
<text transform="translate(69.3,625.9) scale(0.97,1)" font-size="26.3" text-anchor="end">0</text>
<text transform="translate(69.3,690.8) scale(0.97,1)" font-size="26.3" text-anchor="end">-1</text>
<text transform="translate(69.3,755.6) scale(0.97,1)" font-size="26.3" text-anchor="end">-2</text>
<text transform="translate(775.7,561.1) scale(0.97,1)" font-size="26.3" text-anchor="end">2</text>
<text transform="translate(775.7,625.9) scale(0.97,1)" font-size="26.3" text-anchor="end">1</text>
<text transform="translate(775.7,690.8) scale(0.97,1)" font-size="26.3" text-anchor="end">0</text>
<text transform="translate(775.7,755.6) scale(0.97,1)" font-size="26.3" text-anchor="end">-1</text>
<text transform="translate(97.4,794.5) scale(0.97,1)" font-size="26.3" text-anchor="middle">10</text>
<text transform="translate(413.6,794.5) scale(0.97,1)" font-size="26.3" text-anchor="middle">10</text>
<text transform="translate(293.3,797.0) scale(0.97,1)" font-size="26.3">10</text>
<text x="317.8" y="783.7" font-size="21.0">2</text>
<text transform="translate(608.5,797.0) scale(0.97,1)" font-size="26.3">10</text>
<text x="633.0" y="783.7" font-size="21.0">2</text>
<text x="355.0" y="833.0" font-size="26.3" font-style="italic">v</text>
<text x="365.1" y="840.3" font-size="21.0">col</text>
<text x="397.9" y="833.0" font-size="26.3">[m s</text>
<text x="443.6" y="820.4" font-size="21.0">-1</text>
<text x="461.3" y="833.0" font-size="26.3">]</text>
<text x="373.1" y="142.1" font-size="26.3">(a)</text>
<text x="421.1" y="142.1" font-size="26.3" font-style="italic">N</text>
<text x="439.9" y="149.7" font-size="21.0">tar</text>
<text x="468.0" y="142.1" font-size="26.3">/</text>
<text x="481.6" y="142.1" font-size="26.3" font-style="italic">N</text>
<text x="499.4" y="149.7" font-size="21.0">pro</text>
<text x="532.9" y="142.1" font-size="26.3">=</text>
<text x="556.2" y="142.1" font-size="26.3">1</text>
<text x="373.1" y="363.1" font-size="26.3">(b)</text>
<text x="421.1" y="363.1" font-size="26.3" font-style="italic">N</text>
<text x="439.9" y="370.7" font-size="21.0">tar</text>
<text x="468.0" y="363.1" font-size="26.3">/</text>
<text x="481.6" y="363.1" font-size="26.3" font-style="italic">N</text>
<text x="499.4" y="370.7" font-size="21.0">pro</text>
<text x="532.9" y="363.1" font-size="26.3">=</text>
<text x="556.2" y="363.1" font-size="26.3">1.5</text>
<text x="373.1" y="583.8" font-size="26.3">(c)</text>
<text x="421.1" y="583.8" font-size="26.3" font-style="italic">N</text>
<text x="439.9" y="591.4" font-size="21.0">tar</text>
<text x="468.0" y="583.8" font-size="26.3">/</text>
<text x="481.6" y="583.8" font-size="26.3" font-style="italic">N</text>
<text x="499.4" y="591.4" font-size="21.0">pro</text>
<text x="532.9" y="583.8" font-size="26.3">=</text>
<text x="556.2" y="583.8" font-size="26.3">2</text>
<g transform="translate(25.6,497.8) rotate(-90)">
<g transform="translate(0.0,0.0)"><path d="M1.0,4.2 C2.0,5.5 3.7,5.2 4.6,2.7 C5.6,0 6.2,-2.5 6.6,-3.9 L8.7,-11.5 C9.5,-14.5 10.6,-18.3 12.7,-18.1 C13.5,-18.0 14.0,-17.5 14.2,-16.8" fill="none" stroke="#000" stroke-width="1.5" stroke-linecap="round"/><circle cx="1.3" cy="3.8" r="1.25" fill="#000"/><circle cx="13.9" cy="-16.6" r="1.25" fill="#000"/><line x1="4.9" y1="-11.4" x2="12.4" y2="-11.4" stroke="#000" stroke-width="1.0"/></g>
<line x1="4" y1="-23" x2="16.3" y2="-23" stroke="#000" stroke-width="1.35"/>
<text x="11.9" y="6.9" font-size="21.0">gro</text>
<text x="45.9" y="0.0" font-size="26.3">or</text>
<polyline points="82.0,-19.6 76.2,-8.0 82.0,3.6" fill="none" stroke="#000" stroke-width="1.6"/>
<g transform="translate(86.4,0.0)"><path d="M1.0,4.2 C2.0,5.5 3.7,5.2 4.6,2.7 C5.6,0 6.2,-2.5 6.6,-3.9 L8.7,-11.5 C9.5,-14.5 10.6,-18.3 12.7,-18.1 C13.5,-18.0 14.0,-17.5 14.2,-16.8" fill="none" stroke="#000" stroke-width="1.5" stroke-linecap="round"/><circle cx="1.3" cy="3.8" r="1.25" fill="#000"/><circle cx="13.9" cy="-16.6" r="1.25" fill="#000"/><line x1="4.9" y1="-11.4" x2="12.4" y2="-11.4" stroke="#000" stroke-width="1.0"/></g>
<text x="97.3" y="7.9" font-size="21.0">gro</text>
<polyline points="127.1,-19.6 132.9,-8.0 127.1,3.6" fill="none" stroke="#000" stroke-width="1.6"/>
</g>
<g transform="translate(802.9,356.9) rotate(90)">
<g transform="translate(0.0,0.0)"><path d="M1.0,4.2 C2.0,5.5 3.7,5.2 4.6,2.7 C5.6,0 6.2,-2.5 6.6,-3.9 L8.7,-11.5 C9.5,-14.5 10.6,-18.3 12.7,-18.1 C13.5,-18.0 14.0,-17.5 14.2,-16.8" fill="none" stroke="#000" stroke-width="1.5" stroke-linecap="round"/><circle cx="1.3" cy="3.8" r="1.25" fill="#000"/><circle cx="13.9" cy="-16.6" r="1.25" fill="#000"/><line x1="4.9" y1="-11.4" x2="12.4" y2="-11.4" stroke="#000" stroke-width="1.0"/></g>
<line x1="4" y1="-23" x2="16.3" y2="-23" stroke="#000" stroke-width="1.35"/>
<text x="11.1" y="6.9" font-size="21.0">2nd</text>
<text x="48.5" y="0.0" font-size="26.3">or</text>
<polyline points="84.6,-19.6 78.8,-8.0 84.6,3.6" fill="none" stroke="#000" stroke-width="1.6"/>
<g transform="translate(89.0,0.0)"><path d="M1.0,4.2 C2.0,5.5 3.7,5.2 4.6,2.7 C5.6,0 6.2,-2.5 6.6,-3.9 L8.7,-11.5 C9.5,-14.5 10.6,-18.3 12.7,-18.1 C13.5,-18.0 14.0,-17.5 14.2,-16.8" fill="none" stroke="#000" stroke-width="1.5" stroke-linecap="round"/><circle cx="1.3" cy="3.8" r="1.25" fill="#000"/><circle cx="13.9" cy="-16.6" r="1.25" fill="#000"/><line x1="4.9" y1="-11.4" x2="12.4" y2="-11.4" stroke="#000" stroke-width="1.0"/></g>
<text x="99.9" y="7.9" font-size="21.0">2nd</text>
<polyline points="132.3,-19.6 138.1,-8.0 132.3,3.6" fill="none" stroke="#000" stroke-width="1.6"/>
</g>
<text transform="translate(277.7,21.3) scale(0.97,1)" font-size="26.3" text-anchor="end">0.05</text>
<line x1="294.9" y1="12.4" x2="326.8" y2="12.4" stroke="#FFD700" stroke-width="2"/>
<circle cx="310.9" cy="12.4" r="4.0" fill="#FFD700"/>
<text transform="translate(277.7,52.9) scale(0.97,1)" font-size="26.3" text-anchor="end">0.15</text>
<line x1="294.9" y1="43.9" x2="326.8" y2="43.9" stroke="#FFA500" stroke-width="2"/>
<circle cx="310.9" cy="43.9" r="4.0" fill="#FFA500"/>
<text transform="translate(277.7,84.4) scale(0.97,1)" font-size="26.3" text-anchor="end">0.25</text>
<line x1="294.9" y1="75.6" x2="326.8" y2="75.6" stroke="#CD8500" stroke-width="2"/>
<circle cx="310.9" cy="75.6" r="4.0" fill="#CD8500"/>
<text transform="translate(404.6,21.3) scale(0.97,1)" font-size="26.3" text-anchor="end">0.35</text>
<line x1="421.5" y1="12.4" x2="453.4" y2="12.4" stroke="#CD4F26" stroke-width="2"/>
<circle cx="437.4" cy="12.4" r="4.0" fill="#CD4F26"/>
<text transform="translate(404.6,52.9) scale(0.97,1)" font-size="26.3" text-anchor="end">0.45</text>
<line x1="421.5" y1="43.9" x2="453.4" y2="43.9" stroke="#990000" stroke-width="2"/>
<circle cx="437.4" cy="43.9" r="4.0" fill="#990000"/>
<text transform="translate(404.6,84.4) scale(0.97,1)" font-size="26.3" text-anchor="end">0.55</text>
<line x1="421.5" y1="75.6" x2="453.4" y2="75.6" stroke="#A6FF00" stroke-width="2"/>
<circle cx="437.4" cy="75.6" r="4.0" fill="#A6FF00"/>
<text transform="translate(531.5,21.3) scale(0.97,1)" font-size="26.3" text-anchor="end">0.65</text>
<line x1="548" y1="12.4" x2="580" y2="12.4" stroke="#66FF00" stroke-width="2"/>
<circle cx="564.0" cy="12.4" r="4.0" fill="#66FF00"/>
<text transform="translate(531.5,52.9) scale(0.97,1)" font-size="26.3" text-anchor="end">0.75</text>
<line x1="548" y1="43.9" x2="580" y2="43.9" stroke="#66CC00" stroke-width="2"/>
<circle cx="564.0" cy="43.9" r="4.0" fill="#66CC00"/>
<text transform="translate(658.4,21.3) scale(0.97,1)" font-size="26.3" text-anchor="end">0.85</text>
<line x1="674.3" y1="12.4" x2="705.9" y2="12.4" stroke="#26CC4D" stroke-width="2"/>
<circle cx="690.1" cy="12.4" r="4.0" fill="#26CC4D"/>
<text transform="translate(658.4,52.9) scale(0.97,1)" font-size="26.3" text-anchor="end">0.95</text>
<line x1="674.3" y1="43.9" x2="705.9" y2="43.9" stroke="#009900" stroke-width="2"/>
<circle cx="690.1" cy="43.9" r="4.0" fill="#009900"/>
<text x="115.8" y="21.3" font-size="26.3" font-style="italic">b</text>
<text x="129.0" y="28.3" font-size="21.0">off</text>
<text x="159.0" y="21.3" font-size="26.3">/</text>
<text x="165.6" y="21.3" font-size="26.3" font-style="italic">b</text>
<text x="179.0" y="28.3" font-size="21.0">max</text>
<text x="216.1" y="21.3" font-size="26.3">=</text>
<polyline points="508.6,62.4 502.8,74.0 508.6,85.6" fill="none" stroke="#000" stroke-width="1.6"/>
<g transform="translate(513.0,82.0)"><path d="M1.0,4.2 C2.0,5.5 3.7,5.2 4.6,2.7 C5.6,0 6.2,-2.5 6.6,-3.9 L8.7,-11.5 C9.5,-14.5 10.6,-18.3 12.7,-18.1 C13.5,-18.0 14.0,-17.5 14.2,-16.8" fill="none" stroke="#000" stroke-width="1.5" stroke-linecap="round"/><circle cx="1.3" cy="3.8" r="1.25" fill="#000"/><circle cx="13.9" cy="-16.6" r="1.25" fill="#000"/><line x1="4.9" y1="-11.4" x2="12.4" y2="-11.4" stroke="#000" stroke-width="1.0"/></g>
<text x="523.9" y="89.9" font-size="21.0">gro</text>
<polyline points="553.7,62.4 559.5,74.0 553.7,85.6" fill="none" stroke="#000" stroke-width="1.6"/>
<text x="567.3" y="82.0" font-size="26.3">or</text>
<polyline points="602.4,62.4 596.6,74.0 602.4,85.6" fill="none" stroke="#000" stroke-width="1.6"/>
<g transform="translate(606.8,82.0)"><path d="M1.0,4.2 C2.0,5.5 3.7,5.2 4.6,2.7 C5.6,0 6.2,-2.5 6.6,-3.9 L8.7,-11.5 C9.5,-14.5 10.6,-18.3 12.7,-18.1 C13.5,-18.0 14.0,-17.5 14.2,-16.8" fill="none" stroke="#000" stroke-width="1.5" stroke-linecap="round"/><circle cx="1.3" cy="3.8" r="1.25" fill="#000"/><circle cx="13.9" cy="-16.6" r="1.25" fill="#000"/><line x1="4.9" y1="-11.4" x2="12.4" y2="-11.4" stroke="#000" stroke-width="1.0"/></g>
<text x="617.7" y="89.9" font-size="21.0">2nd</text>
<polyline points="650.1,62.4 655.9,74.0 650.1,85.6" fill="none" stroke="#000" stroke-width="1.6"/>
<line x1="674.3" y1="75.6" x2="705.9" y2="75.6" stroke="#000" stroke-width="4.15"/>
<circle cx="690.1" cy="75.6" r="5.7" fill="#000"/>
</svg></body></html>
